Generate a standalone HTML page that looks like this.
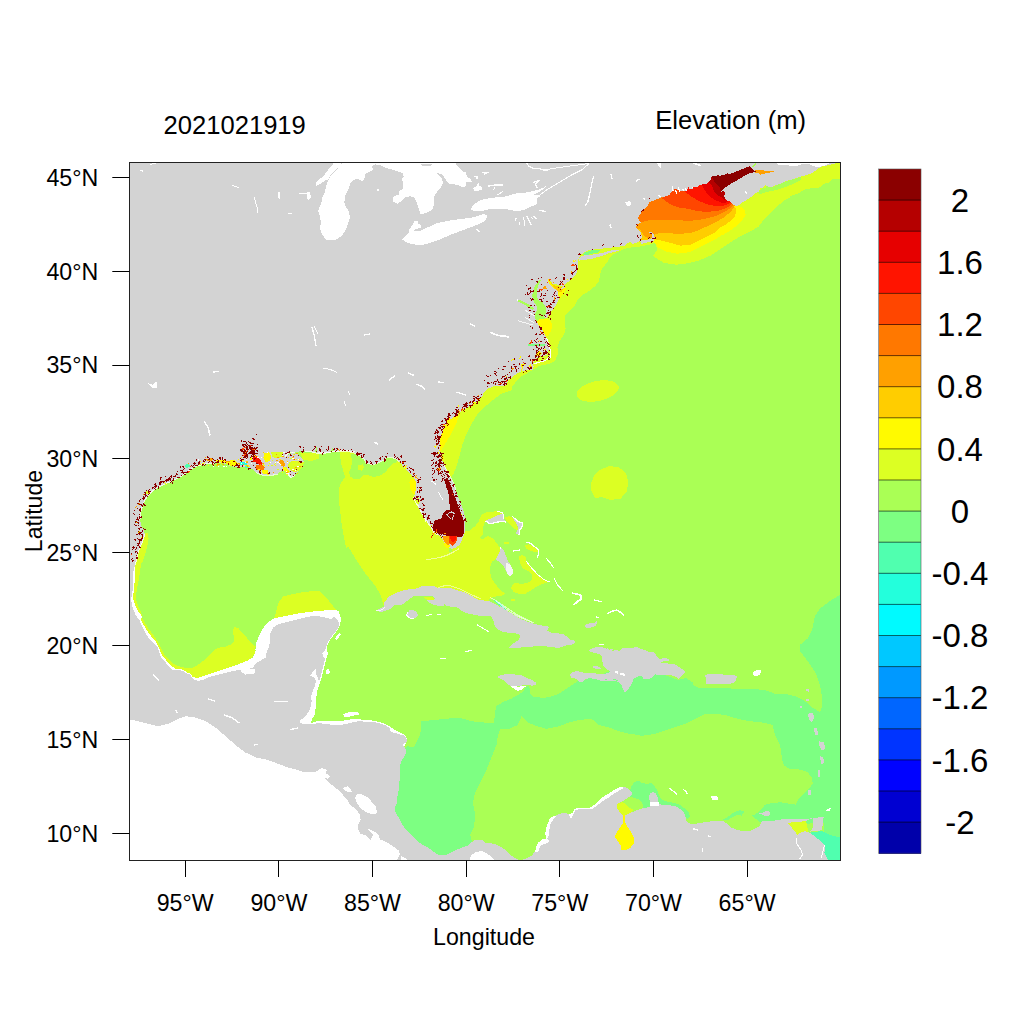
<!DOCTYPE html>
<html lang="en"><head><meta charset="utf-8"><title>Elevation (m) 2021021919</title>
<style>
html,body{margin:0;padding:0;background:#fff;}
body{width:1024px;height:1024px;overflow:hidden;}
svg{display:block;}
text{font-family:"Liberation Sans",Arial,Helvetica,sans-serif;fill:#000;}
.t22{font-size:23.2px;}
.t30{font-size:33px;}
</style></head><body>
<svg width="1024" height="1024" viewBox="0 0 1024 1024">
<rect x="0" y="0" width="1024" height="1024" fill="#fff"/>
<defs><clipPath id="pc"><rect x="129.5" y="162.5" width="711" height="698"/></clipPath></defs>
<g clip-path="url(#pc)" shape-rendering="crispEdges">
<rect x="128" y="161" width="714" height="701" fill="#AAFF55"/>
<polygon points="842.0,594.0 840.0,594.8 830.0,601.0 820.0,608.5 815.0,616.0 812.5,628.5 807.5,638.5 800.0,644.8 800.0,651.0 807.5,661.0 815.0,672.0 817.5,677.5 821.2,690.0 822.5,705.0 820.0,712.5 812.5,707.5 805.0,701.2 795.0,696.2 785.0,693.8 775.0,693.8 765.0,690.0 750.0,688.8 735.0,688.8 725.0,688.1 717.5,687.5 710.0,687.5 703.8,688.1 697.5,687.5 692.5,685.0 693.1,682.5 690.0,680.6 686.2,678.1 682.5,678.8 678.8,680.0 650.0,670.0 612.5,670.0 600.0,675.0 608.5,676.2 596.0,676.2 583.5,676.2 588.5,678.8 583.5,680.0 578.5,680.6 573.5,683.8 568.5,687.5 563.5,690.6 558.5,693.8 552.2,696.2 546.0,697.5 539.8,697.5 533.5,696.9 530.4,694.4 529.8,690.0 529.1,685.6 525.4,687.5 522.9,691.9 517.2,695.6 511.0,698.8 503.5,701.9 496.0,706.2 495.2,712.5 494.0,722.5 484.0,722.5 471.5,721.2 459.0,717.5 446.5,718.8 434.0,720.0 421.5,721.2 420.2,735.0 414.0,747.5 407.8,746.2 399.0,752.5 389.0,790.0 399.0,840.0 434.0,860.0 471.5,847.5 471.5,840.0 470.2,835.0 474.0,827.5 475.2,815.0 472.8,802.5 475.2,792.5 480.2,782.5 486.5,770.0 491.5,757.5 496.5,745.0 497.8,736.2 500.2,728.8 509.0,728.8 517.8,725.0 521.5,716.2 527.8,722.5 536.5,726.2 546.5,728.8 559.0,726.2 569.0,722.5 579.0,720.0 591.5,718.8 599.0,725.0 609.0,727.5 619.0,731.2 629.0,733.8 640.0,735.0 640.0,736.2 655.0,733.8 670.0,728.8 685.0,723.8 695.0,718.8 705.0,713.8 715.0,713.8 725.0,715.0 737.5,718.8 750.0,721.2 762.5,722.5 772.5,725.0 775.0,735.0 780.0,745.0 782.2,759.4 783.8,765.6 790.0,768.8 799.4,769.5 807.2,771.9 811.9,777.3 812.7,783.6 808.8,789.1 804.1,793.8 799.4,797.7 797.0,801.6 796.2,804.7 790.0,803.9 780.6,802.3 771.2,803.1 765.0,804.7 761.9,808.6 758.8,811.7 755.6,814.1 751.7,815.6 761.9,823.4 786.9,825.0 811.9,823.4 824.4,823.4 824.0,838.0 846.0,838.0" fill="#7DFF82"/>
<polygon points="631.2,786.9 633.8,782.5 638.1,780.6 642.5,783.1 647.5,783.8 651.9,783.1 655.0,786.9 657.5,791.2 659.4,796.2 662.5,800.0 668.8,801.9 675.0,803.1 680.0,805.0 685.0,808.8 688.8,812.5 690.0,816.2 687.5,818.8 682.5,816.2 657.5,810.0 650.0,810.0 643.8,808.8 642.5,803.8 640.0,800.0 635.0,798.1 630.0,796.9 632.5,793.8 630.0,790.0" fill="#7DFF82"/>
<polygon points="617.5,803.8 622.5,801.9 626.2,804.4 630.0,808.1 633.8,810.0 631.2,812.5 626.2,815.0 622.5,815.6 619.4,811.9 617.2,808.1" fill="#DCFF23"/>
<polygon points="722.8,819.5 727.5,817.2 733.8,812.5 740.0,810.2 744.7,811.7 741.6,815.6 736.9,814.8 732.2,817.2 727.5,820.3" fill="#7DFF82"/>
<polygon points="786.1,822.7 793.1,821.1 799.4,821.1 805.6,820.3 807.2,825.0 808.0,832.0 804.8,832.0 800.2,833.6 797.5,835.9 794.4,830.9 791.2,826.9" fill="#DCFF23"/>
<polygon points="811.1,832.0 822.8,831.2 830.6,835.2 840.0,837.5 841.6,837.5 841.6,862.5 824.4,862.5 823.6,853.1 822.0,846.9 819.7,842.2 815.0,838.3 811.9,835.2" fill="#50FFAF"/>
<polygon points="451.0,478.1 454.1,472.5 457.2,463.8 459.8,455.0 462.2,445.0 466.0,435.0 471.0,425.0 476.0,416.2 481.0,410.0 483.8,407.5 490.0,402.5 496.2,397.5 501.2,393.8 507.5,391.9 511.9,390.0 512.5,386.2 515.0,383.1 520.0,376.9 527.5,373.1 532.5,370.0 540.0,365.6 548.8,364.0 555.0,361.2 557.5,355.0 557.5,347.5 559.4,341.2 563.8,335.0 565.6,328.8 565.0,321.2 565.0,315.0 570.0,310.0 575.0,305.0 577.5,300.0 582.5,295.0 588.8,291.2 595.0,286.2 598.8,281.2 600.0,275.0 601.2,270.0 605.0,265.0 608.8,260.0 608.8,258.8 612.5,255.0 618.8,251.5 625.0,248.8 631.2,247.5 637.5,246.9 645.0,245.6 650.0,244.4 655.0,243.1 656.9,247.5 657.5,250.0 655.0,253.1 652.5,255.6 656.6,258.4 664.4,263.1 676.9,264.7 689.4,263.1 700.3,260.0 711.2,255.3 720.6,249.1 730.0,242.8 739.4,236.6 748.8,231.9 758.1,227.2 762.8,220.9 770.6,213.1 778.4,205.3 786.2,199.1 790.0,197.5 790.0,196.2 797.5,193.8 805.0,189.4 812.5,188.1 818.8,188.1 823.8,183.8 828.8,182.5 832.5,178.8 838.8,178.8 843.8,178.8 843.8,160.0 500.0,150.0 430.0,350.0 435.0,445.0 445.0,478.0" fill="#DCFF23"/>
<polygon points="531.2,277.5 548.8,277.5 548.8,315.0 545.0,318.5 540.0,322.5 531.2,322.5 515.0,320.0 515.0,297.5" fill="#AAFF55"/>
<polygon points="757.5,192.8 761.2,188.8 763.1,187.5 765.0,188.5 766.9,185.6 770.0,187.2 773.8,186.5 778.8,184.0 783.8,182.1 790.0,180.2 796.2,178.4 801.2,176.9 801.2,180.0 795.0,183.1 788.8,185.6 782.5,188.1 776.2,190.0 770.0,191.2 763.8,192.8 760.0,194.4" fill="#AAFF55"/>
<polygon points="438.5,451.9 437.9,445.0 438.5,437.5 440.4,431.2 443.5,425.0 448.5,418.8 454.8,414.4 459.1,415.6 457.2,421.2 453.5,428.8 449.8,436.2 446.0,442.5 442.2,448.8 440.0,451.9" fill="#FFFA00"/>
<polygon points="618.5,386.5 618.5,388.8 617.3,391.2 615.2,393.6 612.2,395.9 608.5,397.9 604.2,399.5 599.6,400.8 594.8,401.5 590.2,401.8 586.0,401.4 582.4,400.6 579.5,399.3 577.5,397.5 576.5,395.5 576.5,393.2 577.7,390.8 579.8,388.4 582.8,386.1 586.5,384.1 590.8,382.5 595.4,381.2 600.2,380.5 604.8,380.2 609.0,380.6 612.6,381.4 615.5,382.7 617.5,384.5" fill="#DCFF23"/>
<polygon points="591.5,491.0 591.0,483.5 594.0,476.0 600.2,469.8 609.0,466.0 619.0,467.2 626.0,473.5 628.5,482.2 626.5,492.2 620.2,499.0 610.2,499.8 601.5,497.2 595.2,498.0" fill="#DCFF23"/>
<polygon points="582.5,255.2 585.0,252.5 590.0,250.6 595.0,249.8 600.0,250.0 597.5,252.5 591.2,254.0 586.2,255.0" fill="#7DFF82"/>
<polygon points="566.5,286.9 563.8,288.1 560.0,287.5 555.0,286.2 551.2,283.8 548.8,278.8 546.9,278.8 547.5,282.5 550.6,286.2 554.4,290.0 557.5,293.8 558.1,297.5 560.6,297.5 563.8,293.8 565.6,290.0" fill="#FFFA00"/>
<polygon points="551.0,283.2 555.0,285.4 560.0,286.8 564.0,287.5 561.9,291.5 558.1,291.5 554.4,288.4" fill="#FFCD00"/>
<polygon points="536.2,322.5 540.0,318.8 545.0,318.8 550.0,320.0 552.2,325.0 551.2,331.2 547.5,336.2 543.8,335.0 541.2,330.0 538.8,326.2" fill="#FFFA00"/>
<polygon points="340.0,450.0 340.0,456.2 341.2,463.8 343.8,472.5 345.0,477.5 341.2,482.5 339.4,487.5 338.8,495.0 339.4,505.0 340.6,515.0 341.9,526.2 343.8,536.2 346.2,548.0 348.0,546.0 355.5,558.5 365.5,573.5 375.5,586.0 376.0,587.5 378.5,591.2 381.0,596.2 382.2,601.2 383.8,605.6 388.5,602.5 413.5,595.0 438.5,593.8 463.5,598.8 488.5,607.5 504.0,613.8 488.8,600.0 492.5,596.9 498.8,596.2 503.8,595.0 505.0,593.1 501.9,591.2 498.1,587.5 494.4,582.5 491.2,577.5 490.0,571.2 490.6,565.0 492.5,561.2 495.6,559.4 499.4,552.5 501.2,548.1 499.4,546.9 496.2,542.5 492.5,538.1 488.8,536.2 485.6,536.9 482.5,539.4 480.0,538.1 483.1,533.8 482.5,530.0 483.8,525.0 485.6,520.6 495.0,518.8 503.8,515.6 501.2,512.5 496.9,510.6 492.5,511.9 486.2,512.5 481.2,515.0 478.8,521.2 475.0,526.2 470.0,530.0 470.0,531.2 465.0,531.2 456.2,527.5 425.0,490.0 400.0,458.0 360.0,448.0 340.0,445.0" fill="#DCFF23"/>
<polygon points="351.2,453.8 362.5,455.6 367.5,461.2 375.0,462.5 385.0,457.5 390.0,455.6 396.2,457.5 397.5,461.9 392.5,463.8 388.8,467.5 385.0,472.5 380.0,475.6 373.8,476.9 367.5,475.0 362.5,475.6 360.0,478.8 355.0,479.4 350.6,476.9 349.0,472.5 351.2,467.5 351.9,462.5" fill="#AAFF55"/>
<polygon points="358.1,465.6 362.5,464.4 364.0,467.5 361.9,470.6 358.1,470.0" fill="#DCFF23"/>
<polygon points="409.4,482.5 411.2,478.8 414.4,478.8 416.2,482.5 416.2,488.8 414.4,494.4 411.9,492.5 410.0,487.5" fill="#FFFA00"/>
<polygon points="504.4,516.9 510.0,516.2 513.8,518.8 516.9,523.8 518.1,530.0 513.8,528.8 510.0,525.0 506.9,521.2" fill="#DCFF23"/>
<polygon points="519.4,556.2 522.5,555.0 525.6,556.9 526.2,561.2 530.0,565.0 535.0,571.2 540.0,576.2 545.0,580.0 550.0,581.9 545.0,583.1 540.0,585.0 535.0,587.5 530.0,591.2 525.0,593.8 518.8,593.8 513.8,591.9 511.2,588.8 511.9,585.0 515.0,583.1 521.2,583.8 527.5,583.1 531.2,580.6 532.5,576.9 531.2,573.1 527.5,570.6 522.5,568.1 520.6,563.8 519.4,560.0" fill="#DCFF23"/>
<polygon points="525.0,545.6 528.8,544.4 533.8,546.9 538.1,550.0 538.5,552.5 535.0,551.9 530.0,550.6 526.2,548.8" fill="#DCFF23"/>
<polygon points="503.8,541.9 508.8,541.9 508.8,544.4 504.4,544.4" fill="#DCFF23"/>
<polygon points="511.2,599.4 515.0,599.4 515.2,601.2 511.5,601.2" fill="#DCFF23"/>
<polygon points="493.8,600.0 498.8,601.9 503.8,606.2 506.2,610.0 504.4,609.8 500.6,606.2 496.2,603.1" fill="#50FFAF"/>
<polygon points="423.5,596.9 431.0,596.5 434.5,598.1 433.5,599.8 428.5,599.8 425.4,599.0" fill="#DCFF23"/>
<polygon points="275.5,613.5 278.0,603.5 283.0,596.5 293.0,594.0 303.0,592.2 313.0,591.0 319.2,591.0 328.0,599.8 336.8,610.5 338.5,611.6 323.5,611.6 298.5,614.1 282.2,617.2 274.1,618.5" fill="#DCFF23"/>
<polygon points="140.5,532.5 144.9,532.5 148.0,532.5 148.6,538.8 147.4,546.2 144.9,555.0 142.4,562.5 141.1,563.5 139.9,573.5 138.0,583.5 136.5,592.2 136.1,599.8 138.0,606.0 141.1,612.2 142.4,616.6 142.4,618.5 145.5,623.5 149.2,629.8 153.6,635.4 158.0,642.2 161.1,648.5 164.2,654.8 169.2,659.8 173.6,664.1 178.0,666.0 183.0,667.2 188.0,668.5 191.8,667.9 198.0,664.8 203.0,661.0 208.0,656.0 213.0,651.0 218.0,647.9 225.5,646.6 231.8,644.1 234.2,641.0 233.6,636.0 233.0,631.0 234.2,627.2 238.0,627.9 243.0,633.5 248.0,639.1 253.0,644.8 256.0,646.6 255.4,646.6 254.8,653.5 251.0,658.5 244.8,662.2 236.0,664.8 253.0,668.5 203.0,682.2 190.5,678.5 171.8,671.0 159.2,656.0 140.5,623.5 130.5,599.8 133.0,556.0" fill="#DCFF23"/>
<polygon points="653.4,241.2 658.1,247.5 665.9,251.4 676.9,253.8 689.4,252.2 698.8,247.5 708.1,242.8 717.5,238.1 720.0,236.2 725.0,233.8 731.2,230.0 737.5,225.0 742.5,220.0 745.6,215.0 745.0,210.0 741.2,206.9 736.2,205.6 739.4,191.2 755.0,169.4 755.8,162.3 708.1,167.8 661.2,183.4 622.2,206.9 622.2,242.0 645.6,241.6" fill="#FFFA00"/>
<polygon points="653.4,238.9 661.2,240.5 670.6,242.8 680.0,245.6 689.4,245.2 697.2,241.2 705.0,237.3 714.4,232.7 720.0,227.5 725.0,225.0 730.0,221.2 734.4,217.5 736.2,212.5 735.6,208.1 733.1,205.6 739.4,191.2 755.0,169.4 755.8,162.3 708.1,167.8 661.2,183.4 622.2,206.9 622.2,242.0 645.6,241.6" fill="#FFCD00"/>
<polygon points="639.4,228.8 642.5,233.4 645.6,237.3 651.1,238.1 653.4,235.0 661.2,232.7 670.6,233.4 680.0,233.8 689.4,233.1 695.2,231.6 700.6,229.2 706.9,226.4 713.1,223.3 719.4,220.2 724.8,216.7 729.5,212.8 732.7,209.2 734.7,206.1 739.4,191.2 755.0,169.4 755.8,162.3 708.1,167.8 661.2,183.4 622.2,206.9 622.2,228.8" fill="#FFA000"/>
<polygon points="636.2,225.6 640.9,222.5 648.8,220.2 658.1,219.7 667.5,219.7 676.9,220.3 686.2,220.6 692.5,220.5 699.1,219.8 706.9,218.3 715.2,216.2 721.2,213.4 726.9,210.6 730.9,207.5 733.8,205.0 739.4,191.2 755.0,169.4 755.8,162.3 708.1,167.8 661.2,183.4 622.2,206.9 622.2,228.8" fill="#FF7800"/>
<polygon points="662.0,198.3 665.9,201.4 672.2,205.3 680.0,207.7 687.8,208.8 695.2,210.5 703.0,211.6 710.8,211.6 718.6,210.5 724.8,208.8 728.8,206.6 731.6,204.4 739.4,191.2 755.0,169.4 755.8,162.3 708.1,167.8 676.9,175.6" fill="#FF4600"/>
<polygon points="684.7,191.2 689.4,195.2 695.6,199.1 701.9,202.2 708.1,204.5 715.9,206.2 719.7,206.2 724.1,205.6 728.4,204.1 731.2,202.5 739.4,191.2 755.0,169.4 755.8,162.3 708.1,167.8 676.9,175.6" fill="#FF1400"/>
<polygon points="702.0,185.2 704.4,189.4 706.7,193.1 710.0,196.4 713.8,199.2 717.5,201.1 721.2,202.5 725.0,203.0 727.7,201.9 739.4,191.2 755.0,169.4 755.8,162.3 708.1,167.8 676.9,175.6" fill="#E60000"/>
<polygon points="710.0,182.8 712.3,186.6 713.8,190.3 715.6,193.6 718.9,195.9 722.2,197.8 724.1,199.7 726.1,199.1 739.4,191.2 755.0,169.4 755.8,162.3 708.1,167.8 676.9,175.6" fill="#B50000"/>
<polygon points="711.9,176.6 713.4,180.3 715.3,182.8 717.5,184.7 719.4,187.2 720.6,190.3 721.2,191.9 723.8,191.2 739.4,191.2 755.0,169.4 755.8,162.3 708.1,167.8 676.9,175.6" fill="#8B0000"/>
<polygon points="188.0,671.0 193.0,677.2 198.0,677.9 203.0,676.0 210.5,673.5 218.0,671.0 225.5,668.5 233.0,666.0 240.5,663.5 248.0,660.4 253.0,657.2 254.9,653.5 256.0,648.5 255.4,649.8 256.0,643.5 258.5,637.2 261.6,631.0 264.8,625.4 269.8,621.0 274.8,618.2 282.2,616.6 291.0,614.8 299.8,613.2 308.5,612.0 317.2,611.0 326.0,610.4 334.8,610.0 338.5,611.0 340.4,616.0 340.8,621.0 339.8,626.0 337.2,630.4 334.8,633.5 323.5,639.8 286.0,633.5 273.5,661.0 248.5,677.2 223.5,683.5 203.0,686.0 190.5,682.2 189.9,676.0" fill="#FFFFFF"/>
<polygon points="336.0,631.6 331.6,637.9 329.1,641.6 327.2,646.0 326.6,649.8 327.9,652.9 327.2,656.0 326.0,659.8 324.8,664.8 323.5,669.8 322.2,674.8 321.0,679.8 319.8,683.5 317.9,688.5 316.6,694.8 316.0,701.0 315.8,706.0 314.8,711.0 312.9,716.0 311.6,721.0 311.0,724.0 316.2,696.2 316.2,702.5 315.0,714.4 311.9,718.8 311.2,723.1 317.5,721.2 325.0,720.6 332.5,720.6 340.0,721.0 347.5,720.0 353.8,718.8 360.0,719.4 366.2,720.0 372.5,720.6 378.8,721.9 385.0,723.8 391.2,727.5 396.2,730.6 401.2,733.1 405.6,735.6 407.5,740.0 403.8,747.5 387.5,742.5 300.0,742.5 286.0,708.5 306.0,671.0 323.5,643.5" fill="#FFFFFF"/>
<polygon points="136.8,543.5 136.8,556.0 135.5,563.5 134.9,573.5 134.5,583.5 133.6,592.2 132.8,598.5 135.5,606.0 138.6,612.2 141.8,616.0 141.1,619.8 144.2,626.0 147.4,631.0 151.1,636.0 156.1,642.2 159.2,648.5 161.8,654.8 166.8,661.0 171.1,666.0 175.5,668.5 181.8,669.1 186.8,672.2 190.5,674.1 188.0,681.0 165.5,674.8 146.8,649.8 128.0,618.5 128.0,543.5" fill="#FFFFFF"/>
<polygon points="128.0,161.0 842.0,161.0 840.0,162.2 836.2,163.1 831.2,164.4 826.2,165.6 822.5,166.2 820.0,167.5 816.2,170.0 813.8,171.9 808.8,174.4 802.5,176.2 796.2,178.1 790.0,180.0 783.8,181.9 780.0,184.1 776.6,185.0 774.1,185.9 771.6,187.5 769.1,186.9 766.9,186.2 766.0,185.0 764.1,186.9 762.2,188.8 761.0,187.5 759.8,189.4 758.5,191.6 756.0,193.1 753.5,195.0 751.0,196.9 748.5,198.8 746.0,200.3 743.5,201.9 741.0,203.4 739.1,205.0 736.6,206.2 734.8,205.6 732.6,204.4 731.0,202.5 729.4,200.6 727.6,201.6 725.4,199.4 724.4,196.2 724.8,193.1 724.1,190.6 721.3,191.6 722.9,189.4 726.0,186.9 729.8,184.4 733.5,182.2 737.2,180.3 743.1,176.5 749.4,173.5 754.4,172.2 750.0,170.0 751.9,168.1 749.4,166.0 748.5,166.5 744.8,168.1 741.0,169.6 737.2,171.2 733.5,172.8 729.8,174.0 727.2,173.4 724.8,174.6 721.6,175.2 719.8,176.2 718.5,175.2 716.0,175.6 713.5,175.9 711.9,176.2 711.0,178.4 710.4,180.2 708.5,182.1 706.0,184.0 703.5,184.0 701.0,184.9 698.5,185.9 696.0,187.8 694.1,186.2 692.2,189.0 689.8,189.0 688.5,187.1 687.2,189.0 686.0,191.5 681.6,191.2 675.3,188.9 672.2,190.5 669.1,195.2 661.2,197.5 653.4,200.6 649.4,202.5 647.5,205.6 645.0,208.8 642.5,211.2 640.0,214.4 638.1,217.5 638.8,220.0 641.2,222.5 637.5,224.4 635.6,227.5 638.8,230.0 641.2,233.1 641.9,236.2 641.2,240.0 646.2,239.8 650.0,239.0 652.2,238.1 652.5,235.6 651.2,233.5 649.0,232.8 649.4,231.9 651.9,232.2 653.8,234.4 654.6,237.5 654.4,240.2 653.1,241.2 650.0,241.9 645.0,243.1 641.2,243.8 640.0,241.2 636.2,243.1 632.5,243.8 630.0,241.9 627.5,243.1 625.0,245.6 617.5,246.9 610.0,247.8 602.5,248.5 595.0,249.4 588.8,250.2 583.8,252.5 580.0,255.6 578.8,257.8 577.5,261.9 578.5,265.0 577.5,270.0 575.6,275.0 571.9,278.8 567.5,282.5 563.8,286.2 560.0,290.0 566.2,286.9 565.0,286.6 561.9,286.2 557.5,284.6 552.5,283.5 550.0,280.8 548.8,278.5 547.8,281.2 550.2,285.0 552.9,287.5 556.2,289.9 558.5,291.8 558.1,295.2 559.0,297.5 558.1,301.2 556.2,305.0 552.5,310.0 548.8,315.0 546.2,318.8 543.8,316.9 545.6,313.8 546.5,310.0 545.2,306.2 542.8,302.5 538.4,300.0 536.8,296.2 536.5,291.2 537.8,286.9 539.6,282.5 540.9,280.0 540.0,279.4 537.9,282.2 534.8,286.2 532.9,291.2 532.2,296.2 533.5,301.2 536.6,306.2 537.2,310.0 534.8,313.8 535.4,318.8 537.2,322.5 539.4,326.2 542.5,330.0 544.4,333.8 546.2,337.5 548.1,342.5 550.0,347.5 551.2,352.5 550.6,356.2 547.5,359.4 542.5,361.2 537.5,362.5 532.5,363.8 533.8,366.2 532.5,370.0 527.5,370.0 521.2,371.2 515.0,375.0 508.8,380.0 505.0,386.2 500.0,385.6 493.8,386.2 487.5,388.8 483.8,392.5 482.5,396.2 478.8,400.0 473.8,403.8 467.5,407.5 461.2,411.2 456.2,415.0 451.2,418.8 446.2,423.8 443.1,430.0 440.6,436.2 439.8,442.5 440.0,450.0 441.2,457.5 441.0,457.5 443.5,463.8 446.6,470.0 450.4,477.5 453.5,483.8 456.0,490.0 458.5,497.5 461.6,505.0 464.1,512.5 465.4,520.0 465.4,527.5 464.1,535.0 464.8,528.8 463.8,535.0 461.9,540.0 459.4,545.0 456.2,547.5 452.5,548.8 447.5,548.1 445.0,545.6 443.8,541.2 441.2,536.9 437.5,534.4 433.8,531.9 435.0,533.8 432.5,530.0 430.0,525.0 427.5,522.5 423.8,517.5 420.0,511.2 417.5,506.2 420.0,501.2 418.8,497.5 415.0,500.0 414.4,495.0 416.2,488.8 416.2,482.5 413.8,477.5 410.0,473.8 406.2,470.0 402.5,465.6 398.8,461.2 395.0,458.1 390.0,456.9 386.2,457.5 383.8,460.0 380.0,461.9 375.0,463.8 370.0,463.8 366.2,462.5 363.8,458.8 360.0,455.6 353.8,452.8 347.5,451.0 341.2,451.0 335.0,451.2 332.5,448.1 330.0,451.9 323.8,452.8 318.1,452.5 317.5,453.1 316.2,445.0 315.0,453.1 310.0,451.2 302.5,451.2 295.0,451.9 288.8,452.5 285.0,456.2 287.5,455.0 292.5,453.1 297.5,453.8 301.2,457.5 303.8,461.2 302.5,466.2 298.8,470.0 295.0,475.0 291.2,477.5 286.2,472.5 282.5,470.0 277.5,473.8 270.0,475.6 262.5,475.0 256.2,472.5 252.5,468.8 245.0,467.5 237.5,466.9 230.0,466.2 228.0,464.4 221.8,463.1 215.5,462.8 209.2,463.1 203.0,464.4 198.0,465.6 193.0,468.1 188.0,471.2 183.0,475.0 178.0,478.1 171.8,481.2 165.5,483.8 159.2,486.9 153.0,490.6 148.6,495.0 144.9,500.0 142.4,506.2 140.5,512.5 139.9,518.8 141.1,525.0 143.6,530.0 144.9,533.8 143.0,540.0 140.5,546.2 138.0,552.5 136.1,560.0 134.2,568.0 132.8,573.5 133.2,583.5 132.4,592.2 131.1,599.8 132.4,607.2 135.5,614.8 139.9,621.0 141.8,626.0 144.9,632.2 148.0,637.2 153.0,642.2 157.4,647.2 159.2,652.2 161.1,657.2 165.5,662.2 169.2,667.2 172.4,669.8 178.0,669.8 183.0,671.0 186.8,673.5 190.5,674.8 193.0,679.1 198.0,681.0 203.0,679.8 210.5,676.6 218.0,674.8 225.5,672.9 233.0,671.0 240.5,669.8 248.0,668.5 253.0,667.9 254.8,664.1 261.0,660.4 266.0,657.2 266.6,652.2 269.1,647.2 269.8,641.0 270.4,633.5 272.9,627.9 277.2,624.8 283.5,622.9 291.0,621.0 298.5,619.1 306.0,617.2 313.5,616.0 321.0,616.6 327.2,617.9 331.0,619.1 334.1,616.6 337.2,619.1 339.1,623.5 338.5,627.2 336.0,631.0 332.9,634.8 329.8,639.1 327.2,643.5 326.0,648.5 324.1,651.6 322.2,653.5 323.5,656.6 325.4,658.5 324.1,662.2 322.9,667.2 321.6,672.2 320.4,677.2 319.1,681.0 317.9,678.5 316.0,673.5 315.4,668.5 312.9,671.6 309.8,676.0 314.1,677.2 316.0,681.0 314.8,686.0 312.9,691.0 311.0,696.0 311.6,701.0 311.0,706.0 309.1,711.0 306.0,715.4 302.2,719.1 300.0,720.0 300.0,723.1 305.0,724.4 311.2,724.4 317.5,723.1 325.0,723.8 332.5,724.8 340.0,725.0 347.5,723.8 353.8,721.9 360.0,721.2 366.2,721.9 372.5,721.9 378.8,723.1 385.0,725.0 390.0,728.1 390.0,731.2 395.0,733.1 400.0,734.4 404.4,735.6 406.9,739.4 406.2,743.8 403.8,742.5 403.1,745.6 405.6,748.8 406.2,752.5 404.4,756.2 401.9,760.0 400.0,765.0 400.0,771.2 400.0,777.5 400.0,775.0 399.4,782.5 398.8,790.0 397.5,796.2 397.2,802.5 394.4,808.1 396.2,813.8 399.4,818.8 402.5,825.0 406.2,830.0 411.2,835.0 416.2,840.0 421.2,843.8 425.0,846.2 430.0,848.8 433.8,851.9 437.5,854.4 442.5,855.2 447.5,854.4 452.5,851.9 457.5,849.4 462.5,847.5 467.5,845.6 471.2,842.5 475.0,840.0 478.8,840.0 483.8,840.6 485.0,842.5 490.0,843.1 496.2,844.4 501.2,846.9 506.2,850.6 510.0,854.4 513.8,857.5 518.1,859.8 522.5,859.8 527.5,858.1 532.5,855.0 535.0,851.2 536.9,846.2 538.8,842.5 542.5,840.0 546.2,838.8 545.6,833.8 546.2,828.8 548.1,823.8 550.0,818.8 553.8,816.2 558.8,814.4 563.8,812.5 567.5,813.8 571.2,815.6 573.8,812.5 575.0,808.8 578.8,808.1 578.8,808.1 583.8,808.8 590.0,808.1 595.0,805.0 600.0,800.0 605.0,796.2 611.2,792.5 616.2,789.4 621.2,786.9 626.2,787.5 630.0,790.0 632.5,793.8 630.0,796.2 626.2,798.8 622.5,801.2 617.5,803.8 616.9,807.5 619.4,811.9 622.5,815.0 626.2,815.0 631.2,812.5 637.5,810.0 643.8,808.1 650.0,806.9 650.0,802.5 648.8,797.5 650.0,793.8 653.1,791.9 656.2,793.8 658.1,798.8 658.8,803.8 662.5,805.0 668.8,805.0 675.0,806.2 680.0,808.8 683.8,812.5 685.6,817.5 686.2,821.2 690.0,823.8 695.0,824.4 697.8,823.1 705.6,822.2 713.4,821.1 722.8,820.6 726.7,823.4 730.6,827.3 736.9,829.7 743.1,831.2 749.4,831.2 754.1,828.9 758.8,826.6 761.1,823.4 761.9,821.1 768.1,821.1 774.4,820.6 780.6,819.5 786.9,818.8 793.1,818.8 799.4,819.1 805.6,818.8 811.9,818.4 805.6,821.1 799.4,821.9 793.1,821.9 787.7,823.4 791.2,826.9 794.4,830.9 797.5,835.2 800.2,832.8 804.8,831.2 808.8,832.5 813.4,835.2 818.1,839.1 822.8,843.0 825.2,847.7 824.4,853.1 827.5,859.4 827.8,862.5 827.0,862.0 128.0,862.0" fill="#D3D3D3"/>
<polygon points="578.8,260.6 585.0,259.8 592.5,258.5 600.0,256.5 607.5,253.8 613.8,251.9 618.8,251.0 618.8,250.5 613.8,250.0 610.0,250.6 603.8,252.5 597.5,253.8 591.2,254.8 585.0,255.2 581.2,256.2 578.8,258.1" fill="#D3D3D3"/>
<polygon points="376.0,610.6 379.8,608.8 383.5,606.9 384.1,603.1 386.6,599.4 390.4,595.6 396.0,593.1 402.2,590.6 408.5,589.4 416.0,588.5 422.2,586.2 428.5,586.0 434.8,586.5 438.5,588.1 443.5,587.5 448.5,587.5 453.5,588.8 458.5,590.6 463.5,591.9 468.5,594.4 473.5,596.9 478.5,600.0 484.8,600.6 489.8,601.2 494.8,603.8 499.8,606.9 501.0,606.2 506.0,610.0 511.0,613.1 517.2,616.9 523.5,620.0 529.8,622.5 536.0,624.4 542.2,625.6 546.6,625.6 548.5,627.5 547.2,630.6 551.0,632.5 557.2,633.1 563.5,634.4 567.2,636.9 570.4,640.0 574.8,640.6 575.4,642.5 572.2,644.4 566.0,645.6 559.8,647.5 554.8,647.5 549.8,646.9 543.5,646.0 536.0,646.2 528.5,646.9 521.0,647.5 514.8,648.1 509.1,648.1 511.0,645.0 514.8,642.5 518.5,640.0 520.4,636.9 518.5,633.8 513.5,633.1 507.2,632.5 502.2,631.9 498.5,629.4 501.0,631.2 497.2,628.8 494.8,626.2 494.1,622.5 492.2,618.1 489.8,615.6 486.0,615.6 481.0,616.2 474.8,614.8 468.5,613.8 463.5,611.9 459.8,609.4 456.6,607.2 451.0,606.6 446.0,606.2 444.8,603.8 443.5,605.6 439.8,606.2 434.8,605.0 429.8,603.1 426.6,600.6 429.8,600.2 434.1,600.0 434.8,598.1 432.2,596.2 426.0,595.6 418.5,595.6 414.1,595.6 409.8,598.8 406.0,601.9 402.9,604.4 398.5,605.0 393.5,605.6 391.0,608.8 387.2,610.0 382.2,611.9 376.0,611.2" fill="#D3D3D3"/>
<polygon points="407.9,613.1 409.1,610.6 412.2,609.8 416.0,611.2 417.9,614.4 417.2,617.2 413.5,618.5 409.8,617.5 407.2,615.6" fill="#D3D3D3"/>
<polygon points="497.2,676.9 501.0,675.0 507.2,673.8 514.8,674.4 522.2,675.6 527.2,678.1 532.2,680.0 536.0,682.5 536.6,684.4 532.2,685.6 527.2,685.0 523.5,685.2 518.5,686.5 514.8,685.6 511.0,686.2 507.2,683.8 503.5,680.0 499.8,678.5" fill="#D3D3D3"/>
<polygon points="589.1,650.6 592.2,648.1 597.2,646.9 603.5,647.5 609.8,649.4 616.0,651.2 621.0,651.2 600.0,646.9 605.0,648.1 610.0,650.0 615.0,651.2 620.0,650.6 622.5,648.1 627.5,647.5 632.5,648.1 636.2,646.9 641.2,648.8 646.2,650.6 650.0,652.5 653.8,651.9 656.2,655.0 658.1,658.1 660.0,658.8 665.0,658.1 668.8,658.8 668.8,660.6 663.8,661.0 660.6,662.5 666.2,663.1 671.2,664.4 675.0,664.4 678.8,666.9 682.5,669.4 685.0,671.9 683.1,675.0 680.0,676.9 678.8,679.8 676.2,676.9 672.5,675.6 667.5,675.0 661.2,675.0 655.0,674.4 652.5,676.9 650.0,678.8 646.2,679.4 643.1,678.8 641.9,675.6 638.8,676.2 635.6,677.5 633.1,679.4 631.9,683.8 629.4,687.5 626.9,690.6 624.4,692.5 622.5,688.1 621.9,685.0 618.8,682.5 615.0,680.0 610.0,678.8 605.0,679.4 600.0,680.6 619.8,681.2 614.8,678.8 608.5,679.4 602.2,680.0 596.0,679.4 589.8,678.1 584.8,679.4 582.2,682.5 579.8,681.9 576.0,678.8 571.0,677.5 569.8,674.4 572.2,671.9 577.2,671.2 583.5,672.5 589.8,673.1 596.0,673.5 603.5,673.8 608.5,673.1 609.8,671.2 607.2,669.4 603.5,666.2 602.2,661.2 602.2,656.2 598.5,653.8 593.5,652.5 589.1,651.2" fill="#D3D3D3"/>
<polygon points="592.2,665.6 596.0,665.6 600.4,667.5 600.8,669.4 596.0,668.8 592.9,667.2" fill="#D3D3D3"/>
<polygon points="584.8,625.6 587.2,623.8 591.0,623.1 594.8,622.8 597.0,620.6 597.2,623.1 595.4,626.2 591.0,627.5 586.6,628.1" fill="#D3D3D3"/>
<polygon points="705.0,675.6 708.8,673.8 715.0,674.0 721.2,674.4 728.0,674.8 734.4,675.0 736.9,676.2 736.2,680.0 733.8,683.1 728.0,684.0 718.8,683.8 712.5,683.8 706.2,684.4 706.2,678.8" fill="#D3D3D3"/>
<polygon points="495.6,559.4 497.5,556.2 499.4,552.5 500.0,549.4 500.6,547.5 503.8,550.0 505.6,555.0 507.5,560.0 510.0,563.8 512.5,568.8 513.1,573.8 510.6,576.2 507.5,574.4 505.6,570.0 503.1,565.0 499.4,561.9" fill="#D3D3D3"/>
<polygon points="485.6,520.6 490.0,518.8 493.8,516.9 498.8,515.0 503.1,513.1 504.0,518.8 506.2,521.9 501.2,521.2 495.0,522.2 490.0,524.4 487.5,523.1" fill="#D3D3D3"/>
<polygon points="512.5,516.9 516.2,520.6 519.4,522.5 522.5,523.1 521.9,526.9 519.4,530.0 518.8,535.0 515.6,533.1 518.1,529.4 517.2,524.4 513.8,520.0" fill="#D3D3D3"/>
<polygon points="812.7,818.4 818.1,817.5 823.6,817.2 822.8,823.4 822.0,829.7 818.1,831.2 813.4,831.2 810.3,831.6 812.7,828.1 813.4,823.4" fill="#D3D3D3"/>
<polygon points="758.8,813.3 763.4,812.5 766.6,810.9 769.7,811.7 770.0,814.8 767.3,816.4 763.4,815.3" fill="#D3D3D3"/>
<polygon points="808.2,713.8 812.5,712.5 814.5,717.5 812.0,722.0 808.8,720.0" fill="#D3D3D3"/>
<polygon points="813.8,727.5 817.0,728.0 818.0,734.5 815.0,735.5" fill="#D3D3D3"/>
<polygon points="819.0,741.2 823.8,742.5 825.5,748.8 822.0,750.5 819.5,746.2" fill="#D3D3D3"/>
<polygon points="820.0,756.2 823.2,757.0 824.0,763.0 821.0,764.0" fill="#D3D3D3"/>
<polygon points="817.5,770.0 820.0,770.5 820.5,777.0 818.0,777.5" fill="#D3D3D3"/>
<polygon points="807.5,790.0 810.8,790.5 811.5,794.5 808.2,795.0" fill="#D3D3D3"/>
<polygon points="805.5,688.8 808.5,689.0 808.5,691.5 805.5,691.2" fill="#D3D3D3"/>
<polygon points="805.5,698.8 809.0,699.0 809.0,701.5 805.5,701.2" fill="#D3D3D3"/>
<polygon points="799.5,705.5 801.5,705.5 801.5,707.5 799.5,707.5" fill="#D3D3D3"/>
<polygon points="128.0,719.5 130.5,719.5 138.0,721.2 148.0,723.8 158.0,726.2 168.0,723.8 178.0,718.8 185.5,716.2 195.5,717.5 205.5,721.2 215.5,727.5 225.5,736.2 235.5,745.0 245.5,752.5 255.5,757.5 268.0,760.0 278.0,763.8 288.0,767.5 298.0,770.0 300.0,771.2 305.0,771.9 311.2,772.5 317.5,771.2 320.0,768.8 322.5,768.1 326.9,770.0 325.6,773.1 330.0,776.2 327.5,778.8 323.8,777.5 328.8,782.5 335.0,787.5 340.0,791.2 343.8,796.2 347.5,800.0 350.0,805.0 353.8,807.5 357.5,811.2 360.0,815.0 360.6,820.0 358.1,825.0 357.5,828.8 360.6,833.8 366.2,835.6 370.6,840.0 373.1,835.0 370.0,831.9 367.5,828.1 373.8,831.2 378.8,835.0 380.0,839.4 387.5,842.5 393.8,846.9 398.8,850.6 400.0,854.4 397.5,859.4 397.2,861.2 128.0,862.0" fill="#FFFFFF"/>
<polygon points="400.6,861.2 401.2,856.2 406.2,858.8 407.8,861.2" fill="#FFFFFF"/>
<polygon points="469.4,861.2 471.2,855.0 476.2,851.9 482.5,851.0 487.5,853.8 492.5,857.5 495.6,861.2" fill="#FFFFFF"/>
<polygon points="355.0,797.5 356.9,794.4 360.6,793.8 365.0,796.9 370.0,801.2 375.0,806.2 376.9,810.6 375.6,813.5 371.2,813.8 365.6,811.9 360.6,808.1 356.9,803.1" fill="#FFFFFF"/>
<polygon points="342.5,788.1 347.5,786.2 350.6,788.8 351.9,791.9 348.1,792.2 345.0,790.6" fill="#FFFFFF"/>
<polygon points="315.6,186.0 316.0,183.1 319.4,178.8 323.1,176.9 325.6,173.1 328.8,168.8 332.5,165.2 335.0,160.0 342.8,160.0 340.0,166.2 336.9,169.0 333.1,172.5 330.0,176.0 328.1,180.0 325.0,180.6 321.9,182.5 318.8,185.0" fill="#FFFFFF"/>
<polygon points="343.5,160.0 339.4,167.5 335.0,171.2 330.6,176.2 328.1,181.2 326.0,185.6 325.2,191.2 322.2,197.5 321.5,202.5 318.2,210.6 320.0,216.2 320.8,222.5 320.0,228.8 322.5,235.0 325.6,239.4 330.0,240.6 336.2,239.4 341.9,235.6 345.6,230.0 348.1,223.8 349.8,217.5 349.0,211.2 346.2,207.5 344.4,202.5 345.0,196.2 347.5,191.2 349.4,186.9 350.0,183.1 353.1,180.6 356.9,178.8 360.0,180.0 362.5,181.2 364.4,178.8 365.0,174.4 368.8,171.9 373.8,170.0 371.2,166.9 374.4,163.8 374.4,160.0" fill="#FFFFFF"/>
<polygon points="374.4,160.0 374.4,163.1 371.2,166.9 375.0,164.4 380.0,165.0 385.0,167.5 391.2,169.4 397.5,171.2 402.5,173.1 403.8,176.2 401.9,178.8 403.1,182.5 403.1,188.8 399.4,191.2 398.8,194.4 393.1,196.9 392.5,201.2 397.5,203.8 401.2,201.2 405.0,197.5 410.0,196.2 414.4,197.5 416.9,202.5 418.8,208.8 420.6,214.4 426.2,213.1 432.5,209.4 434.4,203.8 434.4,196.2 437.5,191.2 441.2,186.9 443.1,183.1 441.9,178.8 438.8,175.0 436.2,173.1 441.9,173.8 445.0,178.8 446.9,181.2 448.8,183.8 452.5,183.8 457.5,185.0 463.8,187.5 466.2,185.0 465.6,181.2 469.4,182.5 472.5,181.9 470.0,178.8 466.9,176.2 465.6,172.5 462.5,171.2 459.4,168.1 456.2,165.0 454.4,160.0" fill="#FFFFFF"/>
<polygon points="408.8,230.0 412.5,225.0 414.4,221.2 417.5,221.2 418.1,223.8 421.2,225.0 420.6,228.1 416.2,228.8 412.5,232.5 409.4,233.1" fill="#FFFFFF"/>
<polygon points="376.9,189.0 379.4,189.4 379.0,190.9 377.2,190.6" fill="#FFFFFF"/>
<polygon points="402.5,239.5 406.2,235.0 410.0,231.2 420.0,231.2 427.5,227.5 437.5,223.0 450.0,220.5 462.5,218.8 475.0,217.0 483.8,213.8 487.0,215.5 486.2,220.0 480.0,223.8 470.0,227.5 460.0,231.2 450.0,235.0 440.0,239.5 430.0,243.0 420.0,245.5 411.2,243.8 405.0,242.0" fill="#FFFFFF"/>
<polygon points="470.6,209.4 472.5,206.2 475.6,203.1 480.0,200.6 485.0,199.0 490.0,198.1 495.0,197.5 501.2,196.9 507.5,196.2 512.5,194.4 518.8,192.8 523.8,192.8 528.8,192.2 532.5,191.2 537.5,190.0 542.5,188.1 546.2,186.0 543.8,189.0 537.5,192.8 533.8,194.4 537.5,195.0 540.0,196.2 536.9,198.8 537.5,201.9 536.2,204.4 532.5,206.0 527.5,208.1 523.8,210.0 520.0,210.6 513.8,210.6 507.5,209.4 501.2,208.5 495.0,208.5 488.8,209.4 483.8,210.6 478.8,211.5 473.8,211.0" fill="#FFFFFF"/>
<polygon points="473.1,188.1 476.2,186.2 478.1,182.5 479.4,185.6 481.9,186.9 481.9,189.4 478.8,190.6 475.6,191.2 475.0,192.5 473.8,190.0" fill="#FFFFFF"/>
<polygon points="776.9,160.0 776.9,164.0 780.0,165.0 785.0,164.5 790.0,165.8 795.0,166.0 800.0,165.0 802.5,163.8 807.5,163.8 812.5,165.5 816.2,166.8 821.2,166.5 825.0,165.5 828.8,163.8 830.0,160.0" fill="#FFFFFF"/>
<polygon points="306.8,192.5 310.0,192.0 311.0,197.5 308.5,200.0 306.5,197.0" fill="#FFFFFF"/>
<polygon points="278.0,192.5 280.5,192.0 280.0,198.8 278.0,198.0" fill="#FFFFFF"/>
<polygon points="148.0,383.2 153.0,385.0 155.0,382.0 157.0,382.0 157.0,387.5 151.8,387.5" fill="#FFFFFF"/>
<polygon points="355.5,797.5 360.5,793.8 368.0,797.5 375.5,806.2 376.8,812.5 371.8,813.0 364.2,809.5 358.0,803.8" fill="#FFFFFF"/>
<polygon points="535.0,851.9 536.5,846.2 538.5,842.2 542.5,839.5 546.5,838.2 549.0,840.0 548.1,843.1 543.8,844.0 540.0,846.2 538.1,851.9" fill="#FFFFFF"/>
<polygon points="545.2,833.8 545.9,828.8 547.8,823.5 549.8,818.5 553.8,815.9 556.5,816.5 552.8,820.0 550.2,825.0 549.0,831.2 548.4,837.5 546.2,839.0" fill="#FFFFFF"/>
<polygon points="568.1,813.8 574.0,813.1 571.2,818.8" fill="#FFFFFF"/>
<polygon points="568.8,820.0 571.9,813.5 574.8,809.0 578.8,807.5 583.8,808.2 590.0,807.5 594.8,804.5 599.8,799.5 604.8,795.8 611.0,792.0 616.0,788.9 621.2,786.4 624.0,787.8 619.0,790.6 612.8,794.4 607.8,798.1 601.5,801.9 596.5,806.2 591.5,809.2 583.8,809.5 578.8,809.2 575.6,810.0 573.1,814.4" fill="#FFFFFF"/>
<polygon points="650.0,801.9 658.8,801.9 659.0,805.6 650.0,806.0" fill="#FFFFFF"/>
<polygon points="420.0,163.5 433.8,163.5 430.0,166.2 422.5,165.6" fill="#D3D3D3"/>
<polygon points="753.8,170.6 758.8,170.2 765.0,170.6 772.5,170.6 776.2,171.0 770.0,172.5 763.8,173.8 760.0,174.8 757.5,172.5 755.0,172.5" fill="#FFA000"/>
<polygon points="748.1,168.8 751.2,167.2 753.8,170.0 756.2,171.9 752.5,172.5 749.4,171.9" fill="#8B0000"/>
<polygon points="751.9,166.2 755.6,163.1 756.5,164.0 753.1,167.2" fill="#AAFF55"/>
<polygon points="432.5,530.0 433.1,525.0 435.0,520.0 441.2,518.8 443.1,513.8 446.2,510.6 450.0,509.4 449.4,502.5 448.8,496.2 448.1,490.0 447.2,490.0 445.4,483.8 444.8,480.0 446.6,477.5 449.1,481.2 451.6,487.5 454.1,495.0 457.2,502.5 456.9,502.5 459.4,508.8 461.9,515.0 463.8,521.2 464.4,527.5 463.8,533.8 461.2,537.5 457.5,536.9 455.0,535.6 450.0,535.6 446.2,535.6 442.5,534.4 437.5,533.1" fill="#8B0000"/>
<polygon points="446.2,514.4 451.2,511.2 455.0,513.1 452.5,520.0 449.4,518.1" fill="#D3D3D3"/>
<polygon points="447.2,515.0 451.0,512.5 453.8,513.8 451.9,519.0 449.8,517.5" fill="#8B0000"/>
<polygon points="448.8,536.0 456.9,536.0 456.9,540.0 455.0,543.8 452.5,545.6 450.0,543.8 448.1,540.0" fill="#FF4600"/>
<polygon points="450.0,536.0 456.2,536.0 456.0,539.4 453.1,542.5 450.6,540.0" fill="#FF1400"/>
<polygon points="441.9,535.6 449.0,536.0 448.5,540.6 450.0,544.0 447.5,545.0 444.4,541.9" fill="#FFA000"/>
<polygon points="444.4,542.5 447.5,545.0 449.8,544.5 449.4,547.8 446.2,547.8 444.4,545.6" fill="#FFFA00"/>
<polygon points="449.4,548.1 452.5,548.8 451.2,552.5 449.0,551.9" fill="#AAFF55"/>
<polygon points="622.5,815.0 625.0,815.6 625.0,822.5 628.1,827.5 631.2,832.5 634.0,837.5 633.8,843.8 630.0,848.1 625.0,850.2 621.2,849.8 620.6,845.0 617.5,841.2 614.8,836.2 616.9,831.9 620.0,827.5 622.5,823.8 623.4,819.4" fill="#FFFA00"/>
<polygon points="252.5,455.6 256.9,456.2 260.6,460.0 262.8,464.4 259.4,465.0 255.6,462.5 253.1,459.4" fill="#FF1400"/>
<polygon points="255.6,465.0 261.2,464.4 265.0,466.9 263.8,470.0 259.4,470.6 256.2,468.8" fill="#FF7800"/>
<polygon points="230.0,460.2 235.0,460.0 237.8,463.1 236.2,466.0 230.0,466.0" fill="#FFFA00"/>
<polygon points="263.8,453.1 268.8,452.2 271.2,456.2 270.0,461.2 265.6,461.9 263.5,457.5" fill="#FFFA00"/>
<polygon points="261.9,470.0 267.5,469.8 268.1,473.5 262.8,474.0" fill="#FFFA00"/>
<polygon points="240.0,462.5 246.2,462.2 246.5,465.0 240.2,465.2" fill="#23FFDC"/>
<polygon points="245.0,466.0 248.8,466.0 248.8,468.1 245.0,468.1" fill="#50FFAF"/>
<polygon points="271.2,452.2 282.5,451.9 283.1,456.9 277.5,458.1 271.9,457.2" fill="#DCFF23"/>
<polygon points="288.8,461.9 297.5,460.6 303.8,461.9 303.1,466.9 299.4,470.6 295.0,472.5 290.6,470.0 288.1,466.2" fill="#DCFF23"/>
<polygon points="300.0,453.1 318.8,453.1 318.5,458.8 311.2,461.0 303.1,459.8" fill="#DCFF23"/>
<polygon points="279.4,460.6 283.1,460.2 285.2,463.8 284.4,466.9 281.2,466.2 279.4,463.1" fill="#FFA000"/>
<polygon points="282.5,466.2 286.2,467.5 290.0,471.2 288.8,473.1 285.0,471.2 282.5,468.8" fill="#FFFA00"/>
<polygon points="185.2,464.8 189.2,463.8 189.8,466.5 186.8,468.2 185.2,466.9" fill="#50FFAF"/>
<polygon points="206.1,459.4 212.4,457.5 213.2,460.2 208.0,461.5" fill="#FFA000"/>
<polygon points="216.1,459.8 223.0,460.0 228.0,461.5 234.2,463.5 235.5,464.8 230.5,464.8 223.0,462.8 216.1,461.5" fill="#FFFA00"/>
<polygon points="239.9,463.0 246.1,462.5 247.4,464.5 241.1,465.0" fill="#23FFDC"/>
<polygon points="252.4,455.6 256.0,455.0 256.0,462.5 253.0,461.9" fill="#FF1400"/>
<polygon points="144.2,491.9 148.0,491.2 148.6,493.8 144.9,495.0" fill="#DCFF23"/>
<polygon points="533.1,362.8 535.0,358.8 540.0,356.5 546.2,355.2 549.0,349.4 550.2,353.1 549.5,356.5 546.2,359.4 541.2,361.0 535.6,363.2" fill="#DCFF23"/>
<polygon points="535.6,353.1 539.8,351.0 541.9,353.5 538.8,356.2 535.6,356.0" fill="#FFFA00"/>
<polygon points="528.1,344.4 535.0,343.9 544.8,344.4 544.8,346.0 535.0,346.2 528.1,346.5" fill="#7DFF82"/>
<polygon points="533.8,308.1 527.5,303.8 522.5,301.2 518.1,299.4 516.9,301.2 521.2,303.1 526.2,305.6 532.5,310.0" fill="#AAFF55"/>
<polyline points="525.6,542.5 530.0,543.1 535.0,546.9 538.8,550.0 538.1,555.0 537.5,558.1" fill="none" stroke="#FFFFFF" stroke-width="1.2"/>
<polyline points="546.2,558.1 550.0,562.5 553.8,568.1" fill="none" stroke="#FFFFFF" stroke-width="1.2"/>
<polyline points="526.2,561.2 531.2,567.5 537.5,574.4 543.8,579.4 549.4,581.9" fill="none" stroke="#FFFFFF" stroke-width="1"/>
<polyline points="553.8,577.5 557.5,585.0 562.5,590.6" fill="none" stroke="#FFFFFF" stroke-width="1.2"/>
<polyline points="572.5,593.1 580.0,595.0 580.6,598.8 573.8,604.4" fill="none" stroke="#FFFFFF" stroke-width="1.3"/>
<polyline points="512.5,551.2 520.0,550.0" fill="none" stroke="#FFFFFF" stroke-width="1.2"/>
<polyline points="485.6,521.0 490.0,523.8 495.0,522.5 501.2,521.5 506.2,522.0" fill="none" stroke="#FFFFFF" stroke-width="1.2"/>
<polyline points="496.9,511.0 502.8,513.0 504.0,518.8" fill="none" stroke="#FFFFFF" stroke-width="1"/>
<polyline points="512.5,516.5 516.5,520.2 519.8,522.2 522.8,523.0 522.0,527.0 519.8,530.0 519.0,535.2" fill="none" stroke="#FFFFFF" stroke-width="1.2"/>
<polygon points="506.2,563.1 510.0,564.0 512.5,568.8 513.1,573.8 510.6,576.2 507.5,574.4 506.2,570.0" fill="#FFFFFF" fill-opacity="0.75"/>
<polyline points="500.0,547.2 501.2,549.0" fill="none" stroke="#FFFFFF" stroke-width="1"/>
<polyline points="572.2,593.1 577.2,593.8 581.6,595.6 581.0,599.4 577.2,602.5 573.5,605.0" fill="none" stroke="#FFFFFF" stroke-width="1.3"/>
<polyline points="594.1,600.0 602.2,601.9" fill="none" stroke="#FFFFFF" stroke-width="1.3"/>
<polyline points="607.2,613.8 612.2,611.2 616.6,610.0 621.0,612.5 624.0,615.0" fill="none" stroke="#FFFFFF" stroke-width="1.5"/>
<polyline points="596.0,616.9 598.5,618.1" fill="none" stroke="#FFFFFF" stroke-width="1.3"/>
<polyline points="598.5,644.8 603.5,645.0" fill="none" stroke="#FFFFFF" stroke-width="1"/>
<polyline points="438.5,587.5 443.5,586.0 449.8,585.6 456.0,587.5 462.2,590.0 468.5,593.1 474.8,596.2 481.0,599.0" fill="none" stroke="#FFFFFF" stroke-width="1" stroke-opacity="0.5"/>
<polyline points="490.0,597.5 495.0,600.0 502.5,605.0 510.0,610.0 517.5,615.0 525.0,618.8 532.5,622.2" fill="none" stroke="#FFFFFF" stroke-width="1" stroke-opacity="0.6"/>
<polyline points="496.0,601.2 501.0,605.0 506.0,608.8 511.0,612.5 517.2,616.0 524.8,619.5 533.5,622.8" fill="none" stroke="#FFFFFF" stroke-width="1" stroke-opacity="0.6"/>
<polyline points="426.0,615.2 432.2,614.8" fill="none" stroke="#FFFFFF" stroke-width="1"/>
<polyline points="437.2,615.0 441.0,614.0" fill="none" stroke="#FFFFFF" stroke-width="1"/>
<polyline points="476.6,624.4 489.1,631.9" fill="none" stroke="#FFFFFF" stroke-width="1"/>
<polyline points="464.8,651.5 471.6,650.6" fill="none" stroke="#FFFFFF" stroke-width="1"/>
<polyline points="439.8,658.5 446.0,658.5" fill="none" stroke="#FFFFFF" stroke-width="1.3"/>
<polyline points="407.9,611.9 406.6,615.0 409.1,617.8 413.5,619.0" fill="none" stroke="#FFFFFF" stroke-width="1"/>
<polyline points="376.0,611.0 381.0,610.2 384.8,607.5" fill="none" stroke="#FFFFFF" stroke-width="1" stroke-opacity="0.8"/>
<polyline points="426.2,560.0 432.5,558.8 440.0,557.5 447.5,555.0 453.8,551.9 458.8,548.8" fill="none" stroke="#FFFFFF" stroke-width="1" stroke-opacity="0.55"/>
<polyline points="425.0,518.1 428.1,523.1 431.2,527.5 433.8,532.2 437.5,534.8" fill="none" stroke="#FFFFFF" stroke-width="1" stroke-opacity="0.8"/>
<polyline points="413.5,497.5 416.0,503.1 419.1,506.9 421.0,511.5 424.1,516.5 426.0,521.5" fill="none" stroke="#FFFFFF" stroke-width="1" stroke-opacity="0.8"/>
<polyline points="444.1,465.0 447.2,471.2 451.0,478.1 454.1,484.4 456.0,490.0" fill="none" stroke="#FFFFFF" stroke-width="1" stroke-opacity="0.7"/>
<polyline points="438.5,491.9 440.4,496.2 442.9,499.4" fill="none" stroke="#FFFFFF" stroke-width="1"/>
<polyline points="431.6,481.2 436.0,484.4" fill="none" stroke="#FFFFFF" stroke-width="1"/>
<polygon points="511.0,686.5 514.8,685.9 518.5,686.9 523.5,685.5 525.5,686.5 521.0,690.0 517.9,691.0 514.8,689.4" fill="#FFFFFF"/>
<polygon points="752.5,672.0 757.5,669.5 761.2,670.5 760.0,674.5 755.5,676.5 752.5,675.0" fill="#FFFFFF"/>
<polygon points="339.8,632.9 341.0,634.1 338.5,637.9 336.0,640.8 335.4,638.5 337.2,634.8" fill="#FFFFFF"/>
<polygon points="326.0,669.8 329.1,669.1 329.8,672.2 327.9,674.8 326.2,673.5" fill="#FFFFFF"/>
<polygon points="342.9,714.1 348.5,712.2 354.8,711.6 359.8,712.9 356.0,714.8 348.5,716.0 344.8,717.0" fill="#FFFFFF"/>
<polygon points="343.1,714.4 347.5,712.5 355.0,712.5 359.4,714.4 353.8,715.6 348.8,716.9 344.4,717.5" fill="#FFFFFF"/>
<polyline points="668.8,788.1 672.5,790.6 676.9,794.4" fill="none" stroke="#FFFFFF" stroke-width="1.3"/>
<polyline points="683.1,789.4 685.6,791.2 687.5,794.4" fill="none" stroke="#FFFFFF" stroke-width="1.3"/>
<polygon points="711.1,796.1 717.3,795.6 718.1,799.7 711.9,800.0" fill="#FFFFFF"/>
<polygon points="825.2,810.9 828.3,808.6 831.4,808.1 829.8,810.6" fill="#FFFFFF"/>
<polyline points="796.2,838.3 797.0,843.8 800.9,850.0 802.5,854.7 799.4,859.4" fill="none" stroke="#FFFFFF" stroke-width="1"/>
<polyline points="824.4,845.3 822.8,851.6 821.2,857.8" fill="none" stroke="#FFFFFF" stroke-width="1"/>
<polyline points="693.1,828.9 697.8,830.0" fill="none" stroke="#FFFFFF" stroke-width="1.5"/>
<polyline points="708.0,835.6 710.3,836.9" fill="none" stroke="#FFFFFF" stroke-width="1.2"/>
<polyline points="702.5,848.4 702.8,852.3" fill="none" stroke="#FFFFFF" stroke-width="1.2"/>
<polygon points="241.8,668.0 255.5,668.8 254.2,673.8 245.5,674.5 241.0,672.0" fill="#FFFFFF"/>
<polyline points="224.2,715.0 231.8,717.5 239.2,723.0" fill="none" stroke="#FFFFFF" stroke-width="1.5"/>
<polyline points="208.0,698.8 215.5,701.2" fill="none" stroke="#FFFFFF" stroke-width="1.3"/>
<polyline points="290.5,729.5 298.0,728.0" fill="none" stroke="#FFFFFF" stroke-width="1.5"/>
<polyline points="153.0,675.0 159.2,680.5" fill="none" stroke="#FFFFFF" stroke-width="1.5"/>
<polyline points="175.5,710.0 177.5,713.0" fill="none" stroke="#FFFFFF" stroke-width="1.3"/>
<polyline points="254.2,745.0 258.0,744.5" fill="none" stroke="#FFFFFF" stroke-width="1.2"/>
<polyline points="274.2,701.2 288.0,702.0" fill="none" stroke="#FFFFFF" stroke-width="1"/>
<polygon points="318.8,770.0 322.5,768.1 326.9,770.0 325.6,773.1 330.0,776.2 327.5,778.8 323.8,777.5 321.2,773.8" fill="#FFFFFF"/>
<polyline points="536.5,197.5 546.5,190.0 559.0,182.5 571.5,175.0 581.5,170.0 589.0,163.8" fill="none" stroke="#FFFFFF" stroke-width="1"/>
<polyline points="526.9,163.1 528.8,166.2 532.5,168.1 540.0,168.8 545.0,170.6 548.0,170.0" fill="none" stroke="#FFFFFF" stroke-width="1.2"/>
<polyline points="544.0,170.0 559.0,167.5 574.0,165.5 589.0,163.5" fill="none" stroke="#FFFFFF" stroke-width="1"/>
<polyline points="593.5,176.2 591.5,185.0 589.5,195.0 588.0,201.2 585.2,206.2" fill="none" stroke="#FFFFFF" stroke-width="1.3"/>
<polyline points="516.2,217.5 515.6,220.6" fill="none" stroke="#FFFFFF" stroke-width="1"/>
<polyline points="520.0,221.9 518.8,225.6" fill="none" stroke="#FFFFFF" stroke-width="1"/>
<polyline points="523.8,216.9 524.4,226.2" fill="none" stroke="#FFFFFF" stroke-width="1"/>
<polyline points="526.9,216.2 531.2,225.0" fill="none" stroke="#FFFFFF" stroke-width="1"/>
<polyline points="531.2,216.9 533.1,219.4" fill="none" stroke="#FFFFFF" stroke-width="1"/>
<polyline points="533.8,216.2 536.2,218.8" fill="none" stroke="#FFFFFF" stroke-width="1"/>
<polyline points="538.8,210.2 545.6,211.5" fill="none" stroke="#FFFFFF" stroke-width="1.5"/>
<polyline points="488.1,185.9 495.0,185.2 502.5,185.2" fill="none" stroke="#FFFFFF" stroke-width="1.5"/>
<polyline points="495.0,186.9 493.8,189.8" fill="none" stroke="#FFFFFF" stroke-width="1"/>
<polyline points="482.5,172.1 487.5,172.5 483.8,174.4" fill="none" stroke="#FFFFFF" stroke-width="1.3"/>
<polyline points="473.8,176.5 477.5,177.0 476.9,178.8" fill="none" stroke="#FFFFFF" stroke-width="1.3"/>
<polyline points="533.1,182.8 539.4,180.0 535.6,184.4 537.5,188.1" fill="none" stroke="#FFFFFF" stroke-width="1.3"/>
<polyline points="497.5,195.0 503.1,191.2" fill="none" stroke="#FFFFFF" stroke-width="1"/>
<polyline points="476.2,229.4 480.0,231.9" fill="none" stroke="#FFFFFF" stroke-width="1.5"/>
<polygon points="625.2,202.0 630.2,201.2 631.5,205.0 627.0,206.5" fill="#FFFFFF"/>
<polyline points="611.0,173.8 612.0,178.8" fill="none" stroke="#FFFFFF" stroke-width="1.3"/>
<polyline points="609.8,224.5 611.0,228.0" fill="none" stroke="#FFFFFF" stroke-width="1.5"/>
<polyline points="470.2,323.8 475.2,326.2" fill="none" stroke="#FFFFFF" stroke-width="1.3"/>
<polyline points="490.2,332.5 497.8,335.5 509.0,337.0" fill="none" stroke="#FFFFFF" stroke-width="1.5"/>
<polyline points="389.0,380.0 395.2,375.5" fill="none" stroke="#FFFFFF" stroke-width="1.5"/>
<polyline points="407.8,373.0 414.0,375.5" fill="none" stroke="#FFFFFF" stroke-width="1.5"/>
<polyline points="416.5,384.2 421.5,386.2 425.2,389.5" fill="none" stroke="#FFFFFF" stroke-width="1.5"/>
<polyline points="437.8,382.0 444.0,382.5" fill="none" stroke="#FFFFFF" stroke-width="1.3"/>
<polyline points="456.5,392.0 466.5,395.5" fill="none" stroke="#FFFFFF" stroke-width="1.3"/>
<polyline points="311.8,327.0 314.2,335.0 316.0,346.2" fill="none" stroke="#FFFFFF" stroke-width="1.3"/>
<polyline points="314.2,326.2 318.0,333.8" fill="none" stroke="#FFFFFF" stroke-width="1"/>
<polyline points="323.0,368.0 330.5,369.5 336.8,372.5" fill="none" stroke="#FFFFFF" stroke-width="1"/>
<polyline points="213.0,372.0 219.2,371.5" fill="none" stroke="#FFFFFF" stroke-width="1.3"/>
<polyline points="231.8,185.0 239.2,188.0" fill="none" stroke="#FFFFFF" stroke-width="1"/>
<polyline points="254.2,197.5 256.8,206.2 258.0,212.5" fill="none" stroke="#FFFFFF" stroke-width="1"/>
<polyline points="364.2,335.0 370.0,334.0" fill="none" stroke="#FFFFFF" stroke-width="1.3"/>
<polyline points="348.0,391.2 350.0,395.0" fill="none" stroke="#FFFFFF" stroke-width="1"/>
<polyline points="344.2,401.2 345.5,406.2" fill="none" stroke="#FFFFFF" stroke-width="1"/>
<polyline points="288.0,213.0 291.8,213.5" fill="none" stroke="#FFFFFF" stroke-width="1"/>
<polyline points="299.2,193.8 306.8,193.0" fill="none" stroke="#FFFFFF" stroke-width="1"/>
<polyline points="150.5,164.5 155.5,163.0" fill="none" stroke="#FFFFFF" stroke-width="1"/>
<polyline points="140.5,170.0 143.0,171.2" fill="none" stroke="#FFFFFF" stroke-width="1"/>
<polyline points="204.2,421.5 208.0,427.2 210.0,435.5" fill="none" stroke="#FFFFFF" stroke-width="1.5"/>
<polyline points="374.2,442.2 378.0,444.0" fill="none" stroke="#FFFFFF" stroke-width="1.8"/>
<polyline points="546.5,337.8 548.8,345.0 551.0,352.5 550.2,357.2 545.2,360.6 540.0,361.9 534.0,363.8" fill="none" stroke="#FFFFFF" stroke-width="1"/>
<polyline points="535.0,316.2 525.0,310.0" fill="none" stroke="#FFFFFF" stroke-width="1" stroke-opacity="0.8"/>
<polyline points="533.8,322.5 525.0,317.5" fill="none" stroke="#FFFFFF" stroke-width="1" stroke-opacity="0.8"/>
<polyline points="532.5,325.0 517.5,320.6" fill="none" stroke="#FFFFFF" stroke-width="1" stroke-opacity="0.8"/>
<polyline points="518.1,299.4 516.9,301.5" fill="none" stroke="#FFFFFF" stroke-width="1"/>
<polyline points="490.0,332.2 497.5,335.0 508.8,336.5" fill="none" stroke="#FFFFFF" stroke-width="1.2"/>
<polyline points="139.9,520.0 140.5,512.5 142.4,506.2 144.9,500.0 148.6,495.0 153.0,490.6 159.2,486.9 165.5,483.8 171.8,481.2 178.0,478.1 183.0,475.0 188.0,471.2 193.0,468.1 198.0,465.6 203.0,464.4 209.2,463.4 215.5,463.0" fill="none" stroke="#FFFFFF" stroke-width="1" stroke-opacity="0.8"/>
<polyline points="135.5,565.0 136.8,557.5 138.6,551.2 141.1,545.0 143.6,538.8 144.9,534.4" fill="none" stroke="#FFFFFF" stroke-width="1" stroke-opacity="0.8"/>
<polyline points="305.0,451.5 310.0,451.5 317.5,453.4 323.8,453.4 330.0,452.1 335.0,451.5 340.0,450.9 345.0,450.2 350.0,450.9 355.0,452.1" fill="none" stroke="#FFFFFF" stroke-width="1" stroke-opacity="0.8"/>
<polyline points="285.0,456.5 288.8,452.8 295.0,452.1" fill="none" stroke="#FFFFFF" stroke-width="1" stroke-opacity="0.8"/>
<polyline points="286.2,472.8 291.2,477.8 295.0,475.2" fill="none" stroke="#FFFFFF" stroke-width="1" stroke-opacity="0.8"/>
<polyline points="256.2,472.8 262.5,475.2 270.0,475.9 277.5,474.0" fill="none" stroke="#FFFFFF" stroke-width="1" stroke-opacity="0.7"/>
<polyline points="318.1,452.8 323.8,453.0 330.0,452.1 335.0,451.5 341.2,451.2 347.5,451.2 353.8,453.0 360.0,455.9 363.8,459.0 366.2,462.8 370.0,464.0 375.0,464.0 380.0,462.1 383.8,460.2 386.2,457.8 390.0,457.1 395.0,458.4 398.8,461.5" fill="none" stroke="#FFFFFF" stroke-width="1" stroke-opacity="0.7"/>
<polyline points="672.2,185.8 673.0,191.2" fill="none" stroke="#FFFFFF" stroke-width="1.3"/>
<polyline points="675.3,189.7 676.9,193.6" fill="none" stroke="#FFFFFF" stroke-width="1.3"/>
<polyline points="678.4,187.3 679.7,192.0" fill="none" stroke="#FFFFFF" stroke-width="1.3"/>
<polyline points="682.3,188.9 683.9,191.2" fill="none" stroke="#FFFFFF" stroke-width="1.3"/>
<polyline points="685.5,188.1 686.6,190.5" fill="none" stroke="#FFFFFF" stroke-width="1.3"/>
<polyline points="658.9,195.2 660.5,197.5" fill="none" stroke="#FFFFFF" stroke-width="1.3"/>
<polyline points="691.7,186.6 692.8,188.1" fill="none" stroke="#FFFFFF" stroke-width="1.3"/>
<polyline points="639.4,178.8 636.2,181.1" fill="none" stroke="#FFFFFF" stroke-width="1.3"/>
<polygon points="657.3,163.4 661.2,163.1 660.5,167.8 658.9,166.2" fill="#FFFFFF"/>
<polyline points="693.3,163.4 701.1,165.5" fill="none" stroke="#FFFFFF" stroke-width="1.5"/>
<polyline points="744.8,192.0 747.2,193.1" fill="none" stroke="#FFFFFF" stroke-width="2"/>
<polyline points="643.3,198.3 644.8,199.1" fill="none" stroke="#FFFFFF" stroke-width="1.5"/>
<polygon points="615.0,670.6 618.1,671.0 617.8,673.8 615.2,673.1" fill="#FFFFFF"/>
<polygon points="620.0,672.5 625.6,673.8 625.0,675.8 620.6,675.0" fill="#FFFFFF"/>
<path fill="#8B0000" d="M649 198h1v1h-1zM643 210h1v1h-1zM643 209h1v1h-1zM642 210h1v1h-1zM641 211h1v1h-1zM636 224h1v1h-1zM637 225h1v1h-1zM637 235h1v1h-1zM637 236h1v1h-1zM638 237h1v1h-1zM640 235h1v1h-1zM638 237h1v1h-1zM652 241h1v1h-1zM651 242h1v1h-1zM655 237h1v1h-1zM650 233h1v1h-1zM651 233h1v1h-1zM652 238h1v1h-1zM653 238h1v1h-1zM654 238h1v1h-1zM655 238h1v1h-1zM651 241h1v1h-1zM649 237h1v1h-1zM648 238h1v1h-1zM640 240h1v1h-1zM640 239h1v1h-1zM621 243h1v1h-1zM620 244h1v1h-1zM613 246h1v1h-1zM603 244h1v1h-1zM602 245h1v1h-1zM592 249h1v1h-1zM578 254h1v1h-1zM579 254h1v1h-1zM579 253h1v1h-1zM580 254h1v1h-1zM575 264h1v1h-1zM576 265h1v1h-1zM576 266h1v1h-1zM576 267h1v1h-1zM577 268h1v1h-1zM576 268h1v1h-1zM574 271h1v1h-1zM573 272h1v1h-1zM572 272h1v1h-1zM571 273h1v1h-1zM572 274h1v1h-1zM572 273h1v1h-1zM577 269h1v1h-1zM576 269h1v1h-1zM575 270h1v1h-1zM572 274h1v1h-1zM570 278h1v1h-1zM571 278h1v1h-1zM570 279h1v1h-1zM572 272h1v1h-1zM564 278h1v1h-1zM564 279h1v1h-1zM564 278h1v1h-1zM564 277h1v1h-1zM564 275h1v1h-1zM564 274h1v1h-1zM563 274h1v1h-1zM563 279h1v1h-1zM563 278h1v1h-1zM560 289h1v1h-1zM558 287h1v1h-1zM567 294h1v1h-1zM566 294h1v1h-1zM566 294h1v1h-1zM567 295h1v1h-1zM563 293h1v1h-1zM568 290h1v1h-1zM563 279h1v1h-1zM563 278h1v1h-1zM563 277h1v1h-1zM564 286h1v1h-1zM562 281h1v1h-1zM559 284h1v1h-1zM560 284h1v1h-1zM560 283h1v1h-1zM559 284h1v1h-1zM560 281h1v1h-1zM561 282h1v1h-1zM555 278h1v1h-1zM556 277h1v1h-1zM541 277h1v1h-1zM543 287h1v1h-1zM547 290h1v1h-1zM547 290h1v1h-1zM553 294h1v1h-1zM554 295h1v1h-1zM552 296h1v1h-1zM554 293h1v1h-1zM553 294h1v1h-1zM555 291h1v1h-1zM556 295h1v1h-1zM554 292h1v1h-1zM557 297h1v1h-1zM558 297h1v1h-1zM559 297h1v1h-1zM558 297h1v1h-1zM555 298h1v1h-1zM553 301h1v1h-1zM554 302h1v1h-1zM553 302h1v1h-1zM552 302h1v1h-1zM553 300h1v1h-1zM554 300h1v1h-1zM550 306h1v1h-1zM549 307h1v1h-1zM549 306h1v1h-1zM549 305h1v1h-1zM548 305h1v1h-1zM548 306h1v1h-1zM549 306h1v1h-1zM550 307h1v1h-1zM551 307h1v1h-1zM553 308h1v1h-1zM546 306h1v1h-1zM548 310h1v1h-1zM548 313h1v1h-1zM547 313h1v1h-1zM546 313h1v1h-1zM544 315h1v1h-1zM545 316h1v1h-1zM539 314h1v1h-1zM540 314h1v1h-1zM541 315h1v1h-1zM542 315h1v1h-1zM550 313h1v1h-1zM550 312h1v1h-1zM550 311h1v1h-1zM548 317h1v1h-1zM550 318h1v1h-1zM550 319h1v1h-1zM549 312h1v1h-1zM548 313h1v1h-1zM548 312h1v1h-1zM547 312h1v1h-1zM548 312h1v1h-1zM549 312h1v1h-1zM550 314h1v1h-1zM549 314h1v1h-1zM549 315h1v1h-1zM547 307h1v1h-1zM547 306h1v1h-1zM550 304h1v1h-1zM550 303h1v1h-1zM551 304h1v1h-1zM546 301h1v1h-1zM547 301h1v1h-1zM543 298h1v1h-1zM543 295h1v1h-1zM544 295h1v1h-1zM545 295h1v1h-1zM541 300h1v1h-1zM542 301h1v1h-1zM541 301h1v1h-1zM541 300h1v1h-1zM541 299h1v1h-1zM540 299h1v1h-1zM539 299h1v1h-1zM545 293h1v1h-1zM541 293h1v1h-1zM541 294h1v1h-1zM541 295h1v1h-1zM540 296h1v1h-1zM538 291h1v1h-1zM537 291h1v1h-1zM539 291h1v1h-1zM539 290h1v1h-1zM541 284h1v1h-1zM538 278h1v1h-1zM532 279h1v1h-1zM537 281h1v1h-1zM536 281h1v1h-1zM537 282h1v1h-1zM531 279h1v1h-1zM532 279h1v1h-1zM533 290h1v1h-1zM533 291h1v1h-1zM532 291h1v1h-1zM531 291h1v1h-1zM530 291h1v1h-1zM530 290h1v1h-1zM526 285h1v1h-1zM529 288h1v1h-1zM530 288h1v1h-1zM530 287h1v1h-1zM529 288h1v1h-1zM528 289h1v1h-1zM528 288h1v1h-1zM527 292h1v1h-1zM525 294h1v1h-1zM530 292h1v1h-1zM529 293h1v1h-1zM528 294h1v1h-1zM527 294h1v1h-1zM527 293h1v1h-1zM527 292h1v1h-1zM532 299h1v1h-1zM532 299h1v1h-1zM533 299h1v1h-1zM532 299h1v1h-1zM532 298h1v1h-1zM530 298h1v1h-1zM531 299h1v1h-1zM532 299h1v1h-1zM531 300h1v1h-1zM529 307h1v1h-1zM528 307h1v1h-1zM530 305h1v1h-1zM531 305h1v1h-1zM534 305h1v1h-1zM534 311h1v1h-1zM530 310h1v1h-1zM529 310h1v1h-1zM530 310h1v1h-1zM533 311h1v1h-1zM534 314h1v1h-1zM529 315h1v1h-1zM529 317h1v1h-1zM530 326h1v1h-1zM535 320h1v1h-1zM536 321h1v1h-1zM536 322h1v1h-1zM539 327h1v1h-1zM539 326h1v1h-1zM540 327h1v1h-1zM541 327h1v1h-1zM532 328h1v1h-1zM532 327h1v1h-1zM541 328h1v1h-1zM540 329h1v1h-1zM540 328h1v1h-1zM541 329h1v1h-1zM535 334h1v1h-1zM536 334h1v1h-1zM536 333h1v1h-1zM535 334h1v1h-1zM541 333h1v1h-1zM537 338h1v1h-1zM536 339h1v1h-1zM541 332h1v1h-1zM542 332h1v1h-1zM541 332h1v1h-1zM541 333h1v1h-1zM540 334h1v1h-1zM539 334h1v1h-1zM543 332h1v1h-1zM542 333h1v1h-1zM543 334h1v1h-1zM534 340h1v1h-1zM535 341h1v1h-1zM532 342h1v1h-1zM531 342h1v1h-1zM531 341h1v1h-1zM544 339h1v1h-1zM545 337h1v1h-1zM544 337h1v1h-1zM547 342h1v1h-1zM536 342h1v1h-1zM547 343h1v1h-1zM548 343h1v1h-1zM548 344h1v1h-1zM549 344h1v1h-1zM550 345h1v1h-1zM549 346h1v1h-1zM540 341h1v1h-1zM546 341h1v1h-1zM545 342h1v1h-1zM541 341h1v1h-1zM543 348h1v1h-1zM544 346h1v1h-1zM543 350h1v1h-1zM547 345h1v1h-1zM548 346h1v1h-1zM536 347h1v1h-1zM537 347h1v1h-1zM536 347h1v1h-1zM536 346h1v1h-1zM536 345h1v1h-1zM535 345h1v1h-1zM533 349h1v1h-1zM544 347h1v1h-1zM537 350h1v1h-1zM536 350h1v1h-1zM549 350h1v1h-1zM536 355h1v1h-1zM535 355h1v1h-1zM535 356h1v1h-1zM535 357h1v1h-1zM545 353h1v1h-1zM545 352h1v1h-1zM545 351h1v1h-1zM544 352h1v1h-1zM543 353h1v1h-1zM543 354h1v1h-1zM545 350h1v1h-1zM546 351h1v1h-1zM540 353h1v1h-1zM539 353h1v1h-1zM536 351h1v1h-1zM538 355h1v1h-1zM539 356h1v1h-1zM546 351h1v1h-1zM546 353h1v1h-1zM545 353h1v1h-1zM548 354h1v1h-1zM548 353h1v1h-1zM548 354h1v1h-1zM548 353h1v1h-1zM549 354h1v1h-1zM548 354h1v1h-1zM543 352h1v1h-1zM544 353h1v1h-1zM545 353h1v1h-1zM544 354h1v1h-1zM543 354h1v1h-1zM542 355h1v1h-1zM541 347h1v1h-1zM541 348h1v1h-1zM540 349h1v1h-1zM547 352h1v1h-1zM546 352h1v1h-1zM546 351h1v1h-1zM548 356h1v1h-1zM549 357h1v1h-1zM539 348h1v1h-1zM538 349h1v1h-1zM548 359h1v1h-1zM548 358h1v1h-1zM549 359h1v1h-1zM548 359h1v1h-1zM542 360h1v1h-1zM541 360h1v1h-1zM540 353h1v1h-1zM542 358h1v1h-1zM543 358h1v1h-1zM542 358h1v1h-1zM543 358h1v1h-1zM542 356h1v1h-1zM541 356h1v1h-1zM539 344h1v1h-1zM539 345h1v1h-1zM545 352h1v1h-1zM539 348h1v1h-1zM537 354h1v1h-1zM538 356h1v1h-1zM538 357h1v1h-1zM537 358h1v1h-1zM537 359h1v1h-1zM536 359h1v1h-1zM535 359h1v1h-1zM539 354h1v1h-1zM538 349h1v1h-1zM538 348h1v1h-1zM539 348h1v1h-1zM538 348h1v1h-1zM538 351h1v1h-1zM537 352h1v1h-1zM536 353h1v1h-1zM538 349h1v1h-1zM537 350h1v1h-1zM536 351h1v1h-1zM536 352h1v1h-1zM537 359h1v1h-1zM537 360h1v1h-1zM536 356h1v1h-1zM536 355h1v1h-1zM534 360h1v1h-1zM536 360h1v1h-1zM532 362h1v1h-1zM532 363h1v1h-1zM532 359h1v1h-1zM533 360h1v1h-1zM535 359h1v1h-1zM534 359h1v1h-1zM533 359h1v1h-1zM533 360h1v1h-1zM530 365h1v1h-1zM529 366h1v1h-1zM529 368h1v1h-1zM528 368h1v1h-1zM523 372h1v1h-1zM527 367h1v1h-1zM528 367h1v1h-1zM519 363h1v1h-1zM519 364h1v1h-1zM530 367h1v1h-1zM523 365h1v1h-1zM531 367h1v1h-1zM530 368h1v1h-1zM531 368h1v1h-1zM530 360h1v1h-1zM530 359h1v1h-1zM529 355h1v1h-1zM529 356h1v1h-1zM528 356h1v1h-1zM528 368h1v1h-1zM529 369h1v1h-1zM522 365h1v1h-1zM522 364h1v1h-1zM525 370h1v1h-1zM526 371h1v1h-1zM522 364h1v1h-1zM521 364h1v1h-1zM522 365h1v1h-1zM524 363h1v1h-1zM525 363h1v1h-1zM522 359h1v1h-1zM514 358h1v1h-1zM514 359h1v1h-1zM513 359h1v1h-1zM514 366h1v1h-1zM515 366h1v1h-1zM516 366h1v1h-1zM515 367h1v1h-1zM515 368h1v1h-1zM516 369h1v1h-1zM508 361h1v1h-1zM511 366h1v1h-1zM511 367h1v1h-1zM511 368h1v1h-1zM512 368h1v1h-1zM518 368h1v1h-1zM513 364h1v1h-1zM514 364h1v1h-1zM516 371h1v1h-1zM516 370h1v1h-1zM510 376h1v1h-1zM510 378h1v1h-1zM510 377h1v1h-1zM509 377h1v1h-1zM508 377h1v1h-1zM502 369h1v1h-1zM503 369h1v1h-1zM507 374h1v1h-1zM498 368h1v1h-1zM511 371h1v1h-1zM511 370h1v1h-1zM505 375h1v1h-1zM504 376h1v1h-1zM503 366h1v1h-1zM504 366h1v1h-1zM505 366h1v1h-1zM509 372h1v1h-1zM510 377h1v1h-1zM510 378h1v1h-1zM507 379h1v1h-1zM494 373h1v1h-1zM504 383h1v1h-1zM504 384h1v1h-1zM503 384h1v1h-1zM504 385h1v1h-1zM507 380h1v1h-1zM504 382h1v1h-1zM504 381h1v1h-1zM503 381h1v1h-1zM502 382h1v1h-1zM502 381h1v1h-1zM501 381h1v1h-1zM506 378h1v1h-1zM506 377h1v1h-1zM506 378h1v1h-1zM505 378h1v1h-1zM504 379h1v1h-1zM505 379h1v1h-1zM504 379h1v1h-1zM504 378h1v1h-1zM505 379h1v1h-1zM503 376h1v1h-1zM502 376h1v1h-1zM502 377h1v1h-1zM504 385h1v1h-1zM505 383h1v1h-1zM506 383h1v1h-1zM505 383h1v1h-1zM506 384h1v1h-1zM505 381h1v1h-1zM501 378h1v1h-1zM505 383h1v1h-1zM506 384h1v1h-1zM496 375h1v1h-1zM496 375h1v1h-1zM499 384h1v1h-1zM500 384h1v1h-1zM500 383h1v1h-1zM500 382h1v1h-1zM494 371h1v1h-1zM495 371h1v1h-1zM496 372h1v1h-1zM495 373h1v1h-1zM495 374h1v1h-1zM496 375h1v1h-1zM498 382h1v1h-1zM498 381h1v1h-1zM499 382h1v1h-1zM500 383h1v1h-1zM497 379h1v1h-1zM497 380h1v1h-1zM496 381h1v1h-1zM495 381h1v1h-1zM494 381h1v1h-1zM493 382h1v1h-1zM495 384h1v1h-1zM495 383h1v1h-1zM491 382h1v1h-1zM493 383h1v1h-1zM488 383h1v1h-1zM489 383h1v1h-1zM487 386h1v1h-1zM487 382h1v1h-1zM488 382h1v1h-1zM487 383h1v1h-1zM486 375h1v1h-1zM484 380h1v1h-1zM490 375h1v1h-1zM488 376h1v1h-1zM487 376h1v1h-1zM477 396h1v1h-1zM476 397h1v1h-1zM476 398h1v1h-1zM475 397h1v1h-1zM478 398h1v1h-1zM481 394h1v1h-1zM480 397h1v1h-1zM479 398h1v1h-1zM478 396h1v1h-1zM477 398h1v1h-1zM478 399h1v1h-1zM478 400h1v1h-1zM479 400h1v1h-1zM473 398h1v1h-1zM474 398h1v1h-1zM474 399h1v1h-1zM473 401h1v1h-1zM472 401h1v1h-1zM474 400h1v1h-1zM474 399h1v1h-1zM473 400h1v1h-1zM477 401h1v1h-1zM476 401h1v1h-1zM477 402h1v1h-1zM477 403h1v1h-1zM476 403h1v1h-1zM474 396h1v1h-1zM473 396h1v1h-1zM476 401h1v1h-1zM472 404h1v1h-1zM472 405h1v1h-1zM471 405h1v1h-1zM470 405h1v1h-1zM470 406h1v1h-1zM470 407h1v1h-1zM467 405h1v1h-1zM466 406h1v1h-1zM466 402h1v1h-1zM467 403h1v1h-1zM465 404h1v1h-1zM464 404h1v1h-1zM465 405h1v1h-1zM465 404h1v1h-1zM465 403h1v1h-1zM466 403h1v1h-1zM472 402h1v1h-1zM473 403h1v1h-1zM473 402h1v1h-1zM469 405h1v1h-1zM470 401h1v1h-1zM470 402h1v1h-1zM469 402h1v1h-1zM466 404h1v1h-1zM466 403h1v1h-1zM466 404h1v1h-1zM464 406h1v1h-1zM464 406h1v1h-1zM464 405h1v1h-1zM463 406h1v1h-1zM466 407h1v1h-1zM467 407h1v1h-1zM462 407h1v1h-1zM464 409h1v1h-1zM463 410h1v1h-1zM464 411h1v1h-1zM464 408h1v1h-1zM463 404h1v1h-1zM466 406h1v1h-1zM466 405h1v1h-1zM465 406h1v1h-1zM458 411h1v1h-1zM457 412h1v1h-1zM455 409h1v1h-1zM456 409h1v1h-1zM457 410h1v1h-1zM456 410h1v1h-1zM456 411h1v1h-1zM457 414h1v1h-1zM456 414h1v1h-1zM456 413h1v1h-1zM455 413h1v1h-1zM458 409h1v1h-1zM456 407h1v1h-1zM457 407h1v1h-1zM456 407h1v1h-1zM456 412h1v1h-1zM455 413h1v1h-1zM456 414h1v1h-1zM456 415h1v1h-1zM455 415h1v1h-1zM455 416h1v1h-1zM457 411h1v1h-1zM458 412h1v1h-1zM455 415h1v1h-1zM448 415h1v1h-1zM456 415h1v1h-1zM457 415h1v1h-1zM455 414h1v1h-1zM455 413h1v1h-1zM456 414h1v1h-1zM455 415h1v1h-1zM452 413h1v1h-1zM453 412h1v1h-1zM454 413h1v1h-1zM455 413h1v1h-1zM455 414h1v1h-1zM455 415h1v1h-1zM454 416h1v1h-1zM448 414h1v1h-1zM449 415h1v1h-1zM448 415h1v1h-1zM449 414h1v1h-1zM449 413h1v1h-1zM448 413h1v1h-1zM448 414h1v1h-1zM449 415h1v1h-1zM450 415h1v1h-1zM449 415h1v1h-1zM448 416h1v1h-1zM448 415h1v1h-1zM447 416h1v1h-1zM448 417h1v1h-1zM448 416h1v1h-1zM446 420h1v1h-1zM447 418h1v1h-1zM447 419h1v1h-1zM446 423h1v1h-1zM447 423h1v1h-1zM448 424h1v1h-1zM447 425h1v1h-1zM444 418h1v1h-1zM445 419h1v1h-1zM445 420h1v1h-1zM446 420h1v1h-1zM445 420h1v1h-1zM446 421h1v1h-1zM446 420h1v1h-1zM448 417h1v1h-1zM447 418h1v1h-1zM447 419h1v1h-1zM448 419h1v1h-1zM449 417h1v1h-1zM448 417h1v1h-1zM446 422h1v1h-1zM446 421h1v1h-1zM448 418h1v1h-1zM448 419h1v1h-1zM447 419h1v1h-1zM446 420h1v1h-1zM448 418h1v1h-1zM447 418h1v1h-1zM445 418h1v1h-1zM446 419h1v1h-1zM441 424h1v1h-1zM438 427h1v1h-1zM439 428h1v1h-1zM442 424h1v1h-1zM439 427h1v1h-1zM438 427h1v1h-1zM444 427h1v1h-1zM440 425h1v1h-1zM441 426h1v1h-1zM442 427h1v1h-1zM442 426h1v1h-1zM443 426h1v1h-1zM444 426h1v1h-1zM441 421h1v1h-1zM442 421h1v1h-1zM442 420h1v1h-1zM445 423h1v1h-1zM443 428h1v1h-1zM442 429h1v1h-1zM441 430h1v1h-1zM442 431h1v1h-1zM442 432h1v1h-1zM442 431h1v1h-1zM437 431h1v1h-1zM438 432h1v1h-1zM437 433h1v1h-1zM437 432h1v1h-1zM438 432h1v1h-1zM436 429h1v1h-1zM437 430h1v1h-1zM441 435h1v1h-1zM440 436h1v1h-1zM439 437h1v1h-1zM440 437h1v1h-1zM435 431h1v1h-1zM436 430h1v1h-1zM437 431h1v1h-1zM436 432h1v1h-1zM442 429h1v1h-1zM441 429h1v1h-1zM437 435h1v1h-1zM437 436h1v1h-1zM438 431h1v1h-1zM435 432h1v1h-1zM434 433h1v1h-1zM435 433h1v1h-1zM440 428h1v1h-1zM440 427h1v1h-1zM435 438h1v1h-1zM434 439h1v1h-1zM439 436h1v1h-1zM436 440h1v1h-1zM438 438h1v1h-1zM439 439h1v1h-1zM438 439h1v1h-1zM438 436h1v1h-1zM437 437h1v1h-1zM436 438h1v1h-1zM437 439h1v1h-1zM436 440h1v1h-1zM436 441h1v1h-1zM435 437h1v1h-1zM435 436h1v1h-1zM438 437h1v1h-1zM438 440h1v1h-1zM438 441h1v1h-1zM439 441h1v1h-1zM438 442h1v1h-1zM439 437h1v1h-1zM438 437h1v1h-1zM439 438h1v1h-1zM439 445h1v1h-1zM440 445h1v1h-1zM437 443h1v1h-1zM436 443h1v1h-1zM437 444h1v1h-1zM436 444h1v1h-1zM438 443h1v1h-1zM439 445h1v1h-1zM438 448h1v1h-1zM438 447h1v1h-1zM439 454h1v1h-1zM439 455h1v1h-1zM438 456h1v1h-1zM439 456h1v1h-1zM438 456h1v1h-1zM438 457h1v1h-1zM437 457h1v1h-1zM440 455h1v1h-1zM439 456h1v1h-1zM440 456h1v1h-1zM436 453h1v1h-1zM435 454h1v1h-1zM435 453h1v1h-1zM434 453h1v1h-1zM433 453h1v1h-1zM434 454h1v1h-1zM437 452h1v1h-1zM437 453h1v1h-1zM436 462h1v1h-1zM435 463h1v1h-1zM436 463h1v1h-1zM440 459h1v1h-1zM439 459h1v1h-1zM440 459h1v1h-1zM441 459h1v1h-1zM440 460h1v1h-1zM439 461h1v1h-1zM441 462h1v1h-1zM441 463h1v1h-1zM442 463h1v1h-1zM438 464h1v1h-1zM438 463h1v1h-1zM439 464h1v1h-1zM437 464h1v1h-1zM436 465h1v1h-1zM441 460h1v1h-1zM438 460h1v1h-1zM439 460h1v1h-1zM440 463h1v1h-1zM439 464h1v1h-1zM439 463h1v1h-1zM438 463h1v1h-1zM443 463h1v1h-1zM439 460h1v1h-1zM438 460h1v1h-1zM436 461h1v1h-1zM439 467h1v1h-1zM439 466h1v1h-1zM439 467h1v1h-1zM444 471h1v1h-1zM441 466h1v1h-1zM440 472h1v1h-1zM439 468h1v1h-1zM440 469h1v1h-1zM439 470h1v1h-1zM438 471h1v1h-1zM438 472h1v1h-1zM440 465h1v1h-1zM439 465h1v1h-1zM439 466h1v1h-1zM438 466h1v1h-1zM439 466h1v1h-1zM439 467h1v1h-1zM442 472h1v1h-1zM442 471h1v1h-1zM442 472h1v1h-1zM441 473h1v1h-1zM441 471h1v1h-1zM440 472h1v1h-1zM443 465h1v1h-1zM444 470h1v1h-1zM449 476h1v1h-1zM448 476h1v1h-1zM448 476h1v1h-1zM448 475h1v1h-1zM448 476h1v1h-1zM447 472h1v1h-1zM447 471h1v1h-1zM448 472h1v1h-1zM448 471h1v1h-1zM447 471h1v1h-1zM446 471h1v1h-1zM446 474h1v1h-1zM444 475h1v1h-1zM447 475h1v1h-1zM447 476h1v1h-1zM448 477h1v1h-1zM447 478h1v1h-1zM446 479h1v1h-1zM444 477h1v1h-1zM445 479h1v1h-1zM444 480h1v1h-1zM443 474h1v1h-1zM446 471h1v1h-1zM445 471h1v1h-1zM446 472h1v1h-1zM445 473h1v1h-1zM447 474h1v1h-1zM448 475h1v1h-1zM447 475h1v1h-1zM442 480h1v1h-1zM441 481h1v1h-1zM447 481h1v1h-1zM448 481h1v1h-1zM448 482h1v1h-1zM450 483h1v1h-1zM449 483h1v1h-1zM449 482h1v1h-1zM450 483h1v1h-1zM449 484h1v1h-1zM448 485h1v1h-1zM450 485h1v1h-1zM450 479h1v1h-1zM450 480h1v1h-1zM449 480h1v1h-1zM452 485h1v1h-1zM450 486h1v1h-1zM453 486h1v1h-1zM453 485h1v1h-1zM452 485h1v1h-1zM453 485h1v1h-1zM453 484h1v1h-1zM454 484h1v1h-1zM455 490h1v1h-1zM457 496h1v1h-1zM455 493h1v1h-1zM456 493h1v1h-1zM456 492h1v1h-1zM456 493h1v1h-1zM456 495h1v1h-1zM455 495h1v1h-1zM456 496h1v1h-1zM455 496h1v1h-1zM459 501h1v1h-1zM460 501h1v1h-1zM459 501h1v1h-1zM460 502h1v1h-1zM455 498h1v1h-1zM460 505h1v1h-1zM459 504h1v1h-1zM458 505h1v1h-1zM457 506h1v1h-1zM457 507h1v1h-1zM461 510h1v1h-1zM459 507h1v1h-1zM459 506h1v1h-1zM458 509h1v1h-1zM465 518h1v1h-1zM465 519h1v1h-1zM464 519h1v1h-1zM464 520h1v1h-1zM465 520h1v1h-1zM466 521h1v1h-1zM464 519h1v1h-1zM463 515h1v1h-1zM461 519h1v1h-1zM462 520h1v1h-1zM461 521h1v1h-1zM460 521h1v1h-1zM459 522h1v1h-1zM458 522h1v1h-1zM442 536h1v1h-1zM441 537h1v1h-1zM442 533h1v1h-1zM441 534h1v1h-1zM440 535h1v1h-1zM440 532h1v1h-1zM437 532h1v1h-1zM436 533h1v1h-1zM432 535h1v1h-1zM435 532h1v1h-1zM435 531h1v1h-1zM436 531h1v1h-1zM437 532h1v1h-1zM438 533h1v1h-1zM439 534h1v1h-1zM438 530h1v1h-1zM439 531h1v1h-1zM439 530h1v1h-1zM438 530h1v1h-1zM437 531h1v1h-1zM438 531h1v1h-1zM439 532h1v1h-1zM434 528h1v1h-1zM433 529h1v1h-1zM431 526h1v1h-1zM432 527h1v1h-1zM433 528h1v1h-1zM433 527h1v1h-1zM434 528h1v1h-1zM433 527h1v1h-1zM431 523h1v1h-1zM432 523h1v1h-1zM430 523h1v1h-1zM430 522h1v1h-1zM429 515h1v1h-1zM428 515h1v1h-1zM428 517h1v1h-1zM427 518h1v1h-1zM427 519h1v1h-1zM427 518h1v1h-1zM427 517h1v1h-1zM428 517h1v1h-1zM428 516h1v1h-1zM427 517h1v1h-1zM430 521h1v1h-1zM429 518h1v1h-1zM428 518h1v1h-1zM425 513h1v1h-1zM425 514h1v1h-1zM424 514h1v1h-1zM423 514h1v1h-1zM423 515h1v1h-1zM423 516h1v1h-1zM424 517h1v1h-1zM423 517h1v1h-1zM422 510h1v1h-1zM423 513h1v1h-1zM422 513h1v1h-1zM419 508h1v1h-1zM420 508h1v1h-1zM421 509h1v1h-1zM422 509h1v1h-1zM422 510h1v1h-1zM423 508h1v1h-1zM423 508h1v1h-1zM424 508h1v1h-1zM423 505h1v1h-1zM424 505h1v1h-1zM422 503h1v1h-1zM423 509h1v1h-1zM423 510h1v1h-1zM423 504h1v1h-1zM421 499h1v1h-1zM423 499h1v1h-1zM423 498h1v1h-1zM422 498h1v1h-1zM422 499h1v1h-1zM422 498h1v1h-1zM421 499h1v1h-1zM421 500h1v1h-1zM420 500h1v1h-1zM416 496h1v1h-1zM416 497h1v1h-1zM417 497h1v1h-1zM416 497h1v1h-1zM415 498h1v1h-1zM414 497h1v1h-1zM414 498h1v1h-1zM413 499h1v1h-1zM413 498h1v1h-1zM416 499h1v1h-1zM415 498h1v1h-1zM418 500h1v1h-1zM418 501h1v1h-1zM417 499h1v1h-1zM418 499h1v1h-1zM419 490h1v1h-1zM419 491h1v1h-1zM420 496h1v1h-1zM420 497h1v1h-1zM419 492h1v1h-1zM417 491h1v1h-1zM417 492h1v1h-1zM417 496h1v1h-1zM418 496h1v1h-1zM417 497h1v1h-1zM420 490h1v1h-1zM421 490h1v1h-1zM421 489h1v1h-1zM420 488h1v1h-1zM419 487h1v1h-1zM420 487h1v1h-1zM421 487h1v1h-1zM417 487h1v1h-1zM417 478h1v1h-1zM418 479h1v1h-1zM417 480h1v1h-1zM418 481h1v1h-1zM418 482h1v1h-1zM417 482h1v1h-1zM420 479h1v1h-1zM419 479h1v1h-1zM418 480h1v1h-1zM420 477h1v1h-1zM414 473h1v1h-1zM413 474h1v1h-1zM414 475h1v1h-1zM413 476h1v1h-1zM412 476h1v1h-1zM409 467h1v1h-1zM410 468h1v1h-1zM411 468h1v1h-1zM412 469h1v1h-1zM413 470h1v1h-1zM413 469h1v1h-1zM413 469h1v1h-1zM410 472h1v1h-1zM410 471h1v1h-1zM409 470h1v1h-1zM404 465h1v1h-1zM405 466h1v1h-1zM405 467h1v1h-1zM405 468h1v1h-1zM406 468h1v1h-1zM407 468h1v1h-1zM403 466h1v1h-1zM405 461h1v1h-1zM402 462h1v1h-1zM402 461h1v1h-1zM402 462h1v1h-1zM402 463h1v1h-1zM403 461h1v1h-1zM404 461h1v1h-1zM403 463h1v1h-1zM400 461h1v1h-1zM400 462h1v1h-1zM400 461h1v1h-1zM397 457h1v1h-1zM398 458h1v1h-1zM398 459h1v1h-1zM399 459h1v1h-1zM396 458h1v1h-1zM401 457h1v1h-1zM401 456h1v1h-1zM400 456h1v1h-1zM401 456h1v1h-1zM401 455h1v1h-1zM400 456h1v1h-1zM394 455h1v1h-1zM394 454h1v1h-1zM394 455h1v1h-1zM395 456h1v1h-1zM394 457h1v1h-1zM394 455h1v1h-1zM387 453h1v1h-1zM385 456h1v1h-1zM386 457h1v1h-1zM386 456h1v1h-1zM384 458h1v1h-1zM385 459h1v1h-1zM384 458h1v1h-1zM385 459h1v1h-1zM384 459h1v1h-1zM384 460h1v1h-1zM385 460h1v1h-1zM384 461h1v1h-1zM382 456h1v1h-1zM380 457h1v1h-1zM380 459h1v1h-1zM380 458h1v1h-1zM379 458h1v1h-1zM377 461h1v1h-1zM376 462h1v1h-1zM375 461h1v1h-1zM376 461h1v1h-1zM376 463h1v1h-1zM370 461h1v1h-1zM371 462h1v1h-1zM370 463h1v1h-1zM371 463h1v1h-1zM372 464h1v1h-1zM367 462h1v1h-1zM366 463h1v1h-1zM366 462h1v1h-1zM367 461h1v1h-1zM366 461h1v1h-1zM366 460h1v1h-1zM366 461h1v1h-1zM363 456h1v1h-1zM362 457h1v1h-1zM361 457h1v1h-1zM364 454h1v1h-1zM363 455h1v1h-1zM363 454h1v1h-1zM363 455h1v1h-1zM361 455h1v1h-1zM361 456h1v1h-1zM361 457h1v1h-1zM360 453h1v1h-1zM361 453h1v1h-1zM357 453h1v1h-1zM358 453h1v1h-1zM359 453h1v1h-1zM358 453h1v1h-1zM359 454h1v1h-1zM358 454h1v1h-1zM357 452h1v1h-1zM356 453h1v1h-1zM357 453h1v1h-1zM356 454h1v1h-1zM357 454h1v1h-1zM357 455h1v1h-1zM358 453h1v1h-1zM357 453h1v1h-1zM348 450h1v1h-1zM351 449h1v1h-1zM352 451h1v1h-1zM342 450h1v1h-1zM345 450h1v1h-1zM344 450h1v1h-1zM345 450h1v1h-1zM343 449h1v1h-1zM336 448h1v1h-1zM340 449h1v1h-1zM337 448h1v1h-1zM338 449h1v1h-1zM337 449h1v1h-1zM334 449h1v1h-1zM334 448h1v1h-1zM333 449h1v1h-1zM336 450h1v1h-1zM335 451h1v1h-1zM328 449h1v1h-1zM328 448h1v1h-1zM328 447h1v1h-1zM328 446h1v1h-1zM331 451h1v1h-1zM326 449h1v1h-1zM327 450h1v1h-1zM323 452h1v1h-1zM322 453h1v1h-1zM322 454h1v1h-1zM322 453h1v1h-1zM316 451h1v1h-1zM319 448h1v1h-1zM319 449h1v1h-1zM320 449h1v1h-1zM319 450h1v1h-1zM320 451h1v1h-1zM320 450h1v1h-1zM321 446h1v1h-1zM315 447h1v1h-1zM314 448h1v1h-1zM313 449h1v1h-1zM315 446h1v1h-1zM314 446h1v1h-1zM312 450h1v1h-1zM303 447h1v1h-1zM301 451h1v1h-1zM302 452h1v1h-1zM302 451h1v1h-1zM303 451h1v1h-1zM303 450h1v1h-1zM303 449h1v1h-1zM300 447h1v1h-1zM300 446h1v1h-1zM299 446h1v1h-1zM300 446h1v1h-1zM299 446h1v1h-1zM300 447h1v1h-1zM289 451h1v1h-1zM289 452h1v1h-1zM288 452h1v1h-1zM287 452h1v1h-1zM286 453h1v1h-1zM285 453h1v1h-1zM282 454h1v1h-1zM286 453h1v1h-1zM286 457h1v1h-1zM290 455h1v1h-1zM290 454h1v1h-1zM291 455h1v1h-1zM298 455h1v1h-1zM299 461h1v1h-1zM300 461h1v1h-1zM300 462h1v1h-1zM301 462h1v1h-1zM301 461h1v1h-1zM302 466h1v1h-1zM296 469h1v1h-1zM295 473h1v1h-1zM293 475h1v1h-1zM290 474h1v1h-1zM290 471h1v1h-1zM288 467h1v1h-1zM282 470h1v1h-1zM282 469h1v1h-1zM268 473h1v1h-1zM269 472h1v1h-1zM269 473h1v1h-1zM260 470h1v1h-1zM259 471h1v1h-1zM259 472h1v1h-1zM260 472h1v1h-1zM259 472h1v1h-1zM260 472h1v1h-1zM259 472h1v1h-1zM260 473h1v1h-1zM255 467h1v1h-1zM256 469h1v1h-1zM250 468h1v1h-1zM249 468h1v1h-1zM248 468h1v1h-1zM249 468h1v1h-1zM248 468h1v1h-1zM248 469h1v1h-1zM253 465h1v1h-1zM239 465h1v1h-1zM238 466h1v1h-1zM239 466h1v1h-1zM238 467h1v1h-1zM238 466h1v1h-1zM239 467h1v1h-1zM238 465h1v1h-1zM236 465h1v1h-1zM236 464h1v1h-1zM235 465h1v1h-1zM234 466h1v1h-1zM235 462h1v1h-1zM236 463h1v1h-1zM237 464h1v1h-1zM237 465h1v1h-1zM238 466h1v1h-1zM237 467h1v1h-1zM233 461h1v1h-1zM232 465h1v1h-1zM234 461h1v1h-1zM228 461h1v1h-1zM229 461h1v1h-1zM228 461h1v1h-1zM223 462h1v1h-1zM226 462h1v1h-1zM225 462h1v1h-1zM225 459h1v1h-1zM225 460h1v1h-1zM225 459h1v1h-1zM228 464h1v1h-1zM228 463h1v1h-1zM224 459h1v1h-1zM223 460h1v1h-1zM222 461h1v1h-1zM222 462h1v1h-1zM222 458h1v1h-1zM222 459h1v1h-1zM223 460h1v1h-1zM217 461h1v1h-1zM218 461h1v1h-1zM217 459h1v1h-1zM218 460h1v1h-1zM222 457h1v1h-1zM218 462h1v1h-1zM217 462h1v1h-1zM216 462h1v1h-1zM217 463h1v1h-1zM220 457h1v1h-1zM219 458h1v1h-1zM219 457h1v1h-1zM220 458h1v1h-1zM220 459h1v1h-1zM220 458h1v1h-1zM214 460h1v1h-1zM215 460h1v1h-1zM215 462h1v1h-1zM214 463h1v1h-1zM212 461h1v1h-1zM211 461h1v1h-1zM209 461h1v1h-1zM213 462h1v1h-1zM212 462h1v1h-1zM212 463h1v1h-1zM212 464h1v1h-1zM213 464h1v1h-1zM213 465h1v1h-1zM212 458h1v1h-1zM213 459h1v1h-1zM208 462h1v1h-1zM205 464h1v1h-1zM204 465h1v1h-1zM207 457h1v1h-1zM208 457h1v1h-1zM209 458h1v1h-1zM208 459h1v1h-1zM209 459h1v1h-1zM209 458h1v1h-1zM203 463h1v1h-1zM202 464h1v1h-1zM203 464h1v1h-1zM202 465h1v1h-1zM203 461h1v1h-1zM204 461h1v1h-1zM205 460h1v1h-1zM205 459h1v1h-1zM204 459h1v1h-1zM203 460h1v1h-1zM207 456h1v1h-1zM207 457h1v1h-1zM198 464h1v1h-1zM197 465h1v1h-1zM196 465h1v1h-1zM195 465h1v1h-1zM196 459h1v1h-1zM196 460h1v1h-1zM202 463h1v1h-1zM198 462h1v1h-1zM198 463h1v1h-1zM198 464h1v1h-1zM198 463h1v1h-1zM199 463h1v1h-1zM198 463h1v1h-1zM200 461h1v1h-1zM199 462h1v1h-1zM199 461h1v1h-1zM194 467h1v1h-1zM193 467h1v1h-1zM191 465h1v1h-1zM196 465h1v1h-1zM195 465h1v1h-1zM196 465h1v1h-1zM194 464h1v1h-1zM193 465h1v1h-1zM192 466h1v1h-1zM194 462h1v1h-1zM193 463h1v1h-1zM194 463h1v1h-1zM194 462h1v1h-1zM195 463h1v1h-1zM194 463h1v1h-1zM183 466h1v1h-1zM182 466h1v1h-1zM183 467h1v1h-1zM184 468h1v1h-1zM183 469h1v1h-1zM182 470h1v1h-1zM189 469h1v1h-1zM190 469h1v1h-1zM189 469h1v1h-1zM191 469h1v1h-1zM189 471h1v1h-1zM186 472h1v1h-1zM187 472h1v1h-1zM187 471h1v1h-1zM183 472h1v1h-1zM183 473h1v1h-1zM184 474h1v1h-1zM185 474h1v1h-1zM181 470h1v1h-1zM182 470h1v1h-1zM182 471h1v1h-1zM183 472h1v1h-1zM184 472h1v1h-1zM185 472h1v1h-1zM187 471h1v1h-1zM180 470h1v1h-1zM180 467h1v1h-1zM180 466h1v1h-1zM179 477h1v1h-1zM181 475h1v1h-1zM181 472h1v1h-1zM182 472h1v1h-1zM183 473h1v1h-1zM184 474h1v1h-1zM176 473h1v1h-1zM176 474h1v1h-1zM177 474h1v1h-1zM178 477h1v1h-1zM177 471h1v1h-1zM173 478h1v1h-1zM173 476h1v1h-1zM174 476h1v1h-1zM175 476h1v1h-1zM175 475h1v1h-1zM177 477h1v1h-1zM173 480h1v1h-1zM173 479h1v1h-1zM172 480h1v1h-1zM171 481h1v1h-1zM176 474h1v1h-1zM176 473h1v1h-1zM177 474h1v1h-1zM170 476h1v1h-1zM171 477h1v1h-1zM171 476h1v1h-1zM171 475h1v1h-1zM172 480h1v1h-1zM168 480h1v1h-1zM167 480h1v1h-1zM167 479h1v1h-1zM166 479h1v1h-1zM166 480h1v1h-1zM166 481h1v1h-1zM169 479h1v1h-1zM169 478h1v1h-1zM168 478h1v1h-1zM169 479h1v1h-1zM170 479h1v1h-1zM170 480h1v1h-1zM169 477h1v1h-1zM170 478h1v1h-1zM169 479h1v1h-1zM168 479h1v1h-1zM171 481h1v1h-1zM172 482h1v1h-1zM172 483h1v1h-1zM167 480h1v1h-1zM165 476h1v1h-1zM165 480h1v1h-1zM164 481h1v1h-1zM169 479h1v1h-1zM170 480h1v1h-1zM171 481h1v1h-1zM170 482h1v1h-1zM161 481h1v1h-1zM160 481h1v1h-1zM161 482h1v1h-1zM160 483h1v1h-1zM159 483h1v1h-1zM159 482h1v1h-1zM160 484h1v1h-1zM160 483h1v1h-1zM160 482h1v1h-1zM161 482h1v1h-1zM160 483h1v1h-1zM159 484h1v1h-1zM163 481h1v1h-1zM162 481h1v1h-1zM163 482h1v1h-1zM160 479h1v1h-1zM161 477h1v1h-1zM160 477h1v1h-1zM160 478h1v1h-1zM154 486h1v1h-1zM153 487h1v1h-1zM154 488h1v1h-1zM155 489h1v1h-1zM156 486h1v1h-1zM152 487h1v1h-1zM152 488h1v1h-1zM155 484h1v1h-1zM154 484h1v1h-1zM155 485h1v1h-1zM156 485h1v1h-1zM156 486h1v1h-1zM155 487h1v1h-1zM155 483h1v1h-1zM154 484h1v1h-1zM155 484h1v1h-1zM155 485h1v1h-1zM155 484h1v1h-1zM155 483h1v1h-1zM156 486h1v1h-1zM155 486h1v1h-1zM154 486h1v1h-1zM158 487h1v1h-1zM158 486h1v1h-1zM158 487h1v1h-1zM158 488h1v1h-1zM149 489h1v1h-1zM149 489h1v1h-1zM148 490h1v1h-1zM148 491h1v1h-1zM149 491h1v1h-1zM148 492h1v1h-1zM146 490h1v1h-1zM150 491h1v1h-1zM149 492h1v1h-1zM149 493h1v1h-1zM148 494h1v1h-1zM146 495h1v1h-1zM145 495h1v1h-1zM144 494h1v1h-1zM145 495h1v1h-1zM145 496h1v1h-1zM145 495h1v1h-1zM145 494h1v1h-1zM145 495h1v1h-1zM144 498h1v1h-1zM143 499h1v1h-1zM143 496h1v1h-1zM144 497h1v1h-1zM143 497h1v1h-1zM144 497h1v1h-1zM143 498h1v1h-1zM142 498h1v1h-1zM147 496h1v1h-1zM145 492h1v1h-1zM144 492h1v1h-1zM145 493h1v1h-1zM145 492h1v1h-1zM137 503h1v1h-1zM143 503h1v1h-1zM144 504h1v1h-1zM145 505h1v1h-1zM144 505h1v1h-1zM143 504h1v1h-1zM137 503h1v1h-1zM138 503h1v1h-1zM139 504h1v1h-1zM138 504h1v1h-1zM139 503h1v1h-1zM140 504h1v1h-1zM141 504h1v1h-1zM141 505h1v1h-1zM142 505h1v1h-1zM142 506h1v1h-1zM140 499h1v1h-1zM139 500h1v1h-1zM139 501h1v1h-1zM139 509h1v1h-1zM140 509h1v1h-1zM140 508h1v1h-1zM139 509h1v1h-1zM139 509h1v1h-1zM139 510h1v1h-1zM140 511h1v1h-1zM140 510h1v1h-1zM134 510h1v1h-1zM137 508h1v1h-1zM139 518h1v1h-1zM139 516h1v1h-1zM139 517h1v1h-1zM139 516h1v1h-1zM140 517h1v1h-1zM141 517h1v1h-1zM141 516h1v1h-1zM133 513h1v1h-1zM137 517h1v1h-1zM137 518h1v1h-1zM137 518h1v1h-1zM136 519h1v1h-1zM134 514h1v1h-1zM139 514h1v1h-1zM138 525h1v1h-1zM136 521h1v1h-1zM135 521h1v1h-1zM136 522h1v1h-1zM135 522h1v1h-1zM134 524h1v1h-1zM135 525h1v1h-1zM136 525h1v1h-1zM136 522h1v1h-1zM135 522h1v1h-1zM136 522h1v1h-1zM137 522h1v1h-1zM138 523h1v1h-1zM138 522h1v1h-1zM138 519h1v1h-1zM137 519h1v1h-1zM138 520h1v1h-1zM142 530h1v1h-1zM139 529h1v1h-1zM139 528h1v1h-1zM138 528h1v1h-1zM141 527h1v1h-1zM140 527h1v1h-1zM141 527h1v1h-1zM143 528h1v1h-1zM144 529h1v1h-1zM145 529h1v1h-1zM142 531h1v1h-1zM141 532h1v1h-1zM138 531h1v1h-1zM139 532h1v1h-1zM138 532h1v1h-1zM138 533h1v1h-1zM137 534h1v1h-1zM136 534h1v1h-1zM139 532h1v1h-1zM139 533h1v1h-1zM139 534h1v1h-1zM142 536h1v1h-1zM142 537h1v1h-1zM142 538h1v1h-1zM141 539h1v1h-1zM142 534h1v1h-1zM141 534h1v1h-1zM142 534h1v1h-1zM142 535h1v1h-1zM140 533h1v1h-1zM140 532h1v1h-1zM141 532h1v1h-1zM141 538h1v1h-1zM138 532h1v1h-1zM138 539h1v1h-1zM138 545h1v1h-1zM141 540h1v1h-1zM140 540h1v1h-1zM139 540h1v1h-1zM139 539h1v1h-1zM140 539h1v1h-1zM140 540h1v1h-1zM138 543h1v1h-1zM137 543h1v1h-1zM138 544h1v1h-1zM137 545h1v1h-1zM139 542h1v1h-1zM139 543h1v1h-1zM137 538h1v1h-1zM135 540h1v1h-1zM135 539h1v1h-1zM134 539h1v1h-1zM139 541h1v1h-1zM136 547h1v1h-1zM136 548h1v1h-1zM135 549h1v1h-1zM136 548h1v1h-1zM140 547h1v1h-1zM139 547h1v1h-1zM139 546h1v1h-1zM133 548h1v1h-1zM132 549h1v1h-1zM136 551h1v1h-1zM135 551h1v1h-1zM136 551h1v1h-1zM137 553h1v1h-1zM133 546h1v1h-1zM132 547h1v1h-1zM133 547h1v1h-1zM134 547h1v1h-1zM136 557h1v1h-1zM136 557h1v1h-1zM137 557h1v1h-1zM137 558h1v1h-1zM136 558h1v1h-1zM132 558h1v1h-1zM131 554h1v1h-1zM131 553h1v1h-1zM132 558h1v1h-1zM131 559h1v1h-1zM132 560h1v1h-1zM133 560h1v1h-1zM132 561h1v1h-1zM132 560h1v1h-1zM137 552h1v1h-1zM137 553h1v1h-1zM136 555h1v1h-1zM135 552h1v1h-1zM256 448h1v1h-1zM255 448h1v1h-1zM256 448h1v1h-1zM252 461h1v1h-1zM251 461h1v1h-1zM252 454h1v1h-1zM248 453h1v1h-1zM244 450h1v1h-1zM257 447h1v1h-1zM256 447h1v1h-1zM243 445h1v1h-1zM242 445h1v1h-1zM242 444h1v1h-1zM242 445h1v1h-1zM243 445h1v1h-1zM243 446h1v1h-1zM246 452h1v1h-1zM250 457h1v1h-1zM246 453h1v1h-1zM246 454h1v1h-1zM246 455h1v1h-1zM247 456h1v1h-1zM247 457h1v1h-1zM246 458h1v1h-1zM247 449h1v1h-1zM248 449h1v1h-1zM245 454h1v1h-1zM252 447h1v1h-1zM253 448h1v1h-1zM252 449h1v1h-1zM252 458h1v1h-1zM254 450h1v1h-1zM252 443h1v1h-1zM257 451h1v1h-1zM257 450h1v1h-1zM245 450h1v1h-1zM247 447h1v1h-1zM246 448h1v1h-1zM244 452h1v1h-1zM243 453h1v1h-1zM244 453h1v1h-1zM245 453h1v1h-1zM246 453h1v1h-1zM247 454h1v1h-1zM247 455h1v1h-1zM252 450h1v1h-1zM252 451h1v1h-1zM253 452h1v1h-1zM253 453h1v1h-1zM242 448h1v1h-1zM251 445h1v1h-1zM250 446h1v1h-1zM251 447h1v1h-1zM251 448h1v1h-1zM251 449h1v1h-1zM251 448h1v1h-1zM252 447h1v1h-1zM251 447h1v1h-1zM251 448h1v1h-1zM252 449h1v1h-1zM251 450h1v1h-1zM252 451h1v1h-1zM250 447h1v1h-1zM250 448h1v1h-1zM251 449h1v1h-1zM242 450h1v1h-1zM242 451h1v1h-1zM246 453h1v1h-1zM247 454h1v1h-1zM252 448h1v1h-1zM251 445h1v1h-1zM252 445h1v1h-1zM253 454h1v1h-1zM253 453h1v1h-1zM254 453h1v1h-1zM245 457h1v1h-1zM242 455h1v1h-1zM245 450h1v1h-1zM245 451h1v1h-1zM244 452h1v1h-1zM244 453h1v1h-1zM245 454h1v1h-1zM245 455h1v1h-1zM246 446h1v1h-1zM241 450h1v1h-1zM240 450h1v1h-1zM240 449h1v1h-1zM241 449h1v1h-1zM240 450h1v1h-1zM241 451h1v1h-1zM246 448h1v1h-1zM246 449h1v1h-1zM254 453h1v1h-1zM242 459h1v1h-1zM242 460h1v1h-1zM241 461h1v1h-1zM249 448h1v1h-1zM249 447h1v1h-1zM251 455h1v1h-1zM251 456h1v1h-1zM250 457h1v1h-1zM251 457h1v1h-1zM251 456h1v1h-1zM251 457h1v1h-1zM243 459h1v1h-1zM242 450h1v1h-1zM243 451h1v1h-1zM244 451h1v1h-1zM255 453h1v1h-1zM247 446h1v1h-1zM244 453h1v1h-1zM245 453h1v1h-1zM245 452h1v1h-1zM245 453h1v1h-1zM246 454h1v1h-1zM245 454h1v1h-1zM250 443h1v1h-1zM251 443h1v1h-1zM250 443h1v1h-1zM250 442h1v1h-1zM245 456h1v1h-1zM244 457h1v1h-1zM245 457h1v1h-1zM244 457h1v1h-1zM244 456h1v1h-1zM243 457h1v1h-1zM253 455h1v1h-1zM254 456h1v1h-1zM251 451h1v1h-1zM250 451h1v1h-1zM242 466h1v1h-1zM242 465h1v1h-1zM250 452h1v1h-1zM251 452h1v1h-1zM250 453h1v1h-1zM251 453h1v1h-1zM249 448h1v1h-1zM250 448h1v1h-1zM250 449h1v1h-1zM249 448h1v1h-1zM248 445h1v1h-1zM249 446h1v1h-1zM249 445h1v1h-1zM248 445h1v1h-1zM247 446h1v1h-1zM247 447h1v1h-1zM244 454h1v1h-1zM241 441h1v1h-1zM241 440h1v1h-1zM253 443h1v1h-1zM250 449h1v1h-1zM251 449h1v1h-1zM252 450h1v1h-1zM250 449h1v1h-1zM246 447h1v1h-1zM245 447h1v1h-1zM250 453h1v1h-1zM249 453h1v1h-1zM253 443h1v1h-1zM247 450h1v1h-1zM245 447h1v1h-1zM246 448h1v1h-1zM247 448h1v1h-1zM246 449h1v1h-1zM250 446h1v1h-1zM250 445h1v1h-1zM242 445h1v1h-1zM242 444h1v1h-1zM243 444h1v1h-1zM244 444h1v1h-1zM249 452h1v1h-1zM256 434h1v1h-1zM252 456h1v1h-1zM246 456h1v1h-1zM247 457h1v1h-1zM246 458h1v1h-1zM246 459h1v1h-1zM252 449h1v1h-1zM254 454h1v1h-1zM253 455h1v1h-1zM254 456h1v1h-1zM253 456h1v1h-1zM253 450h1v1h-1zM254 451h1v1h-1zM254 452h1v1h-1zM254 451h1v1h-1zM253 451h1v1h-1zM254 452h1v1h-1zM252 450h1v1h-1zM251 451h1v1h-1zM242 451h1v1h-1zM242 450h1v1h-1zM242 451h1v1h-1zM242 450h1v1h-1zM242 451h1v1h-1zM242 450h1v1h-1zM254 447h1v1h-1zM254 448h1v1h-1zM255 449h1v1h-1zM256 450h1v1h-1zM243 452h1v1h-1zM243 453h1v1h-1zM252 450h1v1h-1zM256 463h1v1h-1zM257 463h1v1h-1zM247 444h1v1h-1zM246 445h1v1h-1zM245 445h1v1h-1zM245 444h1v1h-1zM243 441h1v1h-1zM244 441h1v1h-1zM245 441h1v1h-1zM246 442h1v1h-1zM246 443h1v1h-1zM245 444h1v1h-1zM242 455h1v1h-1zM246 445h1v1h-1zM247 446h1v1h-1zM246 446h1v1h-1zM245 447h1v1h-1zM257 444h1v1h-1zM244 449h1v1h-1zM244 446h1v1h-1zM252 449h1v1h-1zM252 450h1v1h-1zM242 449h1v1h-1zM242 450h1v1h-1zM245 451h1v1h-1zM246 447h1v1h-1zM247 448h1v1h-1zM248 449h1v1h-1zM247 450h1v1h-1zM245 452h1v1h-1zM244 453h1v1h-1zM250 457h1v1h-1zM253 453h1v1h-1zM253 452h1v1h-1zM252 453h1v1h-1zM252 452h1v1h-1zM253 453h1v1h-1zM253 452h1v1h-1zM243 460h1v1h-1zM254 439h1v1h-1zM253 439h1v1h-1zM253 438h1v1h-1zM252 438h1v1h-1zM257 453h1v1h-1zM256 453h1v1h-1zM255 453h1v1h-1zM256 450h1v1h-1zM254 451h1v1h-1zM253 452h1v1h-1zM254 452h1v1h-1zM245 447h1v1h-1zM254 455h1v1h-1zM254 459h1v1h-1zM254 458h1v1h-1zM255 458h1v1h-1zM247 451h1v1h-1zM248 441h1v1h-1zM249 442h1v1h-1zM252 451h1v1h-1zM252 450h1v1h-1zM241 457h1v1h-1zM240 458h1v1h-1zM241 459h1v1h-1zM241 460h1v1h-1zM240 460h1v1h-1zM241 461h1v1h-1zM251 443h1v1h-1zM252 447h1v1h-1zM251 447h1v1h-1zM252 448h1v1h-1zM243 451h1v1h-1zM441 455h1v1h-1zM441 454h1v1h-1zM432 453h1v1h-1zM431 453h1v1h-1zM432 453h1v1h-1zM443 453h1v1h-1zM433 462h1v1h-1zM433 463h1v1h-1zM432 464h1v1h-1zM431 465h1v1h-1zM432 468h1v1h-1zM433 468h1v1h-1zM433 468h1v1h-1zM432 468h1v1h-1zM432 468h1v1h-1zM432 470h1v1h-1zM438 456h1v1h-1zM439 470h1v1h-1zM439 469h1v1h-1zM438 469h1v1h-1zM443 457h1v1h-1zM442 458h1v1h-1zM442 457h1v1h-1zM441 457h1v1h-1zM442 458h1v1h-1zM443 458h1v1h-1zM439 455h1v1h-1zM438 455h1v1h-1zM435 462h1v1h-1zM435 463h1v1h-1zM436 463h1v1h-1zM444 464h1v1h-1zM445 464h1v1h-1zM432 477h1v1h-1zM436 479h1v1h-1zM442 456h1v1h-1zM441 454h1v1h-1zM441 475h1v1h-1zM442 476h1v1h-1zM435 452h1v1h-1zM435 453h1v1h-1zM433 452h1v1h-1zM434 452h1v1h-1zM433 454h1v1h-1zM433 463h1v1h-1zM433 459h1v1h-1zM432 460h1v1h-1zM431 460h1v1h-1zM442 479h1v1h-1zM442 478h1v1h-1zM443 478h1v1h-1zM444 479h1v1h-1zM434 479h1v1h-1zM433 479h1v1h-1zM440 472h1v1h-1zM440 473h1v1h-1zM439 473h1v1h-1zM439 464h1v1h-1zM438 464h1v1h-1zM438 465h1v1h-1zM434 455h1v1h-1zM434 456h1v1h-1zM442 457h1v1h-1zM434 472h1v1h-1zM435 465h1v1h-1zM435 466h1v1h-1zM435 462h1v1h-1zM433 480h1v1h-1zM434 480h1v1h-1zM434 479h1v1h-1zM438 474h1v1h-1zM443 462h1v1h-1zM443 462h1v1h-1zM444 475h1v1h-1zM437 456h1v1h-1zM436 456h1v1h-1zM433 453h1v1h-1zM434 472h1v1h-1zM433 473h1v1h-1zM432 474h1v1h-1zM438 473h1v1h-1zM442 453h1v1h-1zM441 453h1v1h-1zM440 453h1v1h-1zM440 452h1v1h-1zM440 462h1v1h-1zM440 461h1v1h-1zM439 462h1v1h-1zM437 468h1v1h-1zM436 469h1v1h-1zM437 470h1v1h-1zM434 470h1v1h-1zM434 471h1v1h-1zM439 460h1v1h-1z"/>
<path fill="#FF4600" d="M573 265h1v1h-1zM574 265h1v1h-1zM573 265h1v1h-1zM573 264h1v1h-1zM573 265h1v1h-1zM572 265h1v1h-1zM572 264h1v1h-1zM571 265h1v1h-1zM562 283h1v1h-1zM562 284h1v1h-1zM563 284h1v1h-1zM549 279h1v1h-1zM550 279h1v1h-1zM549 280h1v1h-1zM547 306h1v1h-1zM548 306h1v1h-1zM539 289h1v1h-1zM540 289h1v1h-1zM541 290h1v1h-1zM541 289h1v1h-1zM542 289h1v1h-1zM541 289h1v1h-1zM547 282h1v1h-1zM540 331h1v1h-1zM541 332h1v1h-1zM542 333h1v1h-1zM531 340h1v1h-1zM531 341h1v1h-1zM531 342h1v1h-1zM530 342h1v1h-1zM529 343h1v1h-1zM530 343h1v1h-1zM538 341h1v1h-1zM532 361h1v1h-1zM532 360h1v1h-1zM523 362h1v1h-1zM506 381h1v1h-1zM506 380h1v1h-1zM506 381h1v1h-1zM498 384h1v1h-1zM500 383h1v1h-1zM501 383h1v1h-1zM477 399h1v1h-1zM469 403h1v1h-1zM472 404h1v1h-1zM462 408h1v1h-1zM461 409h1v1h-1zM462 409h1v1h-1zM461 410h1v1h-1zM459 413h1v1h-1zM444 424h1v1h-1zM443 424h1v1h-1zM438 470h1v1h-1zM439 470h1v1h-1zM452 494h1v1h-1zM436 530h1v1h-1zM436 529h1v1h-1zM436 530h1v1h-1zM436 531h1v1h-1zM431 536h1v1h-1zM431 537h1v1h-1zM413 473h1v1h-1zM402 462h1v1h-1zM403 462h1v1h-1zM293 456h1v1h-1zM292 457h1v1h-1zM293 458h1v1h-1zM294 459h1v1h-1zM190 466h1v1h-1zM188 471h1v1h-1zM189 471h1v1h-1zM188 472h1v1h-1zM131 554h1v1h-1zM245 454h1v1h-1zM244 454h1v1h-1zM244 455h1v1h-1zM243 455h1v1h-1zM242 448h1v1h-1zM242 449h1v1h-1zM242 448h1v1h-1zM243 448h1v1h-1zM243 449h1v1h-1zM243 448h1v1h-1zM245 447h1v1h-1zM244 447h1v1h-1zM253 449h1v1h-1zM252 449h1v1h-1zM250 445h1v1h-1zM247 450h1v1h-1zM246 451h1v1h-1z"/>
<path fill="#FFFA00" d="M575 260h1v1h-1zM574 261h1v1h-1zM573 261h1v1h-1zM573 260h1v1h-1zM567 279h1v1h-1zM539 340h1v1h-1zM545 349h1v1h-1zM544 349h1v1h-1zM529 366h1v1h-1zM529 365h1v1h-1zM530 365h1v1h-1zM530 364h1v1h-1zM524 364h1v1h-1zM523 364h1v1h-1zM522 364h1v1h-1zM521 364h1v1h-1zM522 364h1v1h-1zM521 365h1v1h-1zM520 356h1v1h-1zM520 357h1v1h-1zM519 358h1v1h-1zM521 366h1v1h-1zM522 366h1v1h-1zM522 367h1v1h-1zM522 368h1v1h-1zM521 369h1v1h-1zM521 370h1v1h-1zM512 359h1v1h-1zM513 359h1v1h-1zM512 359h1v1h-1zM511 360h1v1h-1zM515 375h1v1h-1zM506 376h1v1h-1zM473 402h1v1h-1zM474 402h1v1h-1zM474 403h1v1h-1zM474 404h1v1h-1zM458 405h1v1h-1zM458 406h1v1h-1zM463 409h1v1h-1zM449 419h1v1h-1zM449 418h1v1h-1zM449 419h1v1h-1zM448 420h1v1h-1zM447 420h1v1h-1zM447 421h1v1h-1zM444 425h1v1h-1zM443 425h1v1h-1zM436 445h1v1h-1zM435 446h1v1h-1zM434 446h1v1h-1zM435 447h1v1h-1zM439 450h1v1h-1zM461 514h1v1h-1zM436 532h1v1h-1zM431 525h1v1h-1zM406 465h1v1h-1zM405 466h1v1h-1zM404 466h1v1h-1zM405 467h1v1h-1zM406 468h1v1h-1zM405 468h1v1h-1zM164 482h1v1h-1zM165 483h1v1h-1zM166 484h1v1h-1zM136 522h1v1h-1zM139 531h1v1h-1zM138 532h1v1h-1zM141 537h1v1h-1zM254 455h1v1h-1zM255 456h1v1h-1zM251 457h1v1h-1zM250 458h1v1h-1zM250 459h1v1h-1zM251 459h1v1h-1zM251 458h1v1h-1zM251 459h1v1h-1zM286 474h2v1h-2zM257 456h1v1h-1zM285 471h2v1h-2zM279 459h2v1h-2zM267 474h2v1h-2zM274 464h1v1h-1zM293 464h1v1h-1zM299 459h1v1h-1zM292 457h1v1h-1zM275 465h1v1h-1zM276 457h1v1h-1zM296 459h1v1h-1zM269 463h1v1h-1zM273 472h1v1h-1zM268 465h1v1h-1zM263 465h2v1h-2zM282 472h1v1h-1zM258 469h2v1h-2zM293 461h2v1h-2zM242 460h2v1h-2zM233 463h1v1h-1zM238 459h1v1h-1zM200 461h1v1h-1zM217 460h1v1h-1zM208 465h1v1h-1zM226 461h1v1h-1zM248 466h2v1h-2zM202 463h2v1h-2zM221 463h1v1h-1zM243 460h1v1h-1zM248 465h1v1h-1zM204 462h1v1h-1zM245 465h1v1h-1zM443 459h1v1h-1zM443 458h1v1h-1zM443 457h1v1h-1zM442 457h1v1h-1zM443 457h1v1h-1zM442 457h1v1h-1zM438 452h1v1h-1zM438 453h1v1h-1z"/>
<path fill="#FFA000" d="M571 271h1v1h-1zM571 272h1v1h-1zM553 282h1v1h-1zM543 288h1v1h-1zM544 288h1v1h-1zM545 288h1v1h-1zM544 288h1v1h-1zM544 287h1v1h-1zM544 286h1v1h-1zM554 298h1v1h-1zM554 299h1v1h-1zM554 298h1v1h-1zM554 297h1v1h-1zM546 288h1v1h-1zM545 288h1v1h-1zM545 287h1v1h-1zM545 286h1v1h-1zM544 286h1v1h-1zM543 287h1v1h-1zM530 366h1v1h-1zM531 366h1v1h-1zM513 368h1v1h-1zM512 368h1v1h-1zM512 369h1v1h-1zM478 395h1v1h-1zM469 403h1v1h-1zM458 410h1v1h-1zM459 411h1v1h-1zM444 533h1v1h-1zM445 533h1v1h-1zM434 532h1v1h-1zM433 533h1v1h-1zM432 533h1v1h-1zM433 534h1v1h-1zM419 489h1v1h-1zM416 475h1v1h-1zM415 476h1v1h-1zM415 477h1v1h-1zM415 476h1v1h-1zM416 477h1v1h-1zM417 478h1v1h-1zM338 449h1v1h-1zM339 450h1v1h-1zM273 472h1v1h-1zM188 463h1v1h-1zM149 492h1v1h-1zM143 494h1v1h-1zM139 503h1v1h-1zM138 504h1v1h-1zM136 506h1v1h-1zM135 507h1v1h-1zM254 449h1v1h-1zM245 452h1v1h-1zM286 472h2v1h-2zM276 454h1v1h-1zM276 460h2v1h-2zM296 453h2v1h-2zM282 456h2v1h-2zM267 473h1v1h-1zM260 471h1v1h-1zM262 463h2v1h-2zM277 457h2v1h-2zM299 466h2v1h-2zM295 467h2v1h-2zM226 461h2v1h-2zM243 464h1v1h-1zM239 466h1v1h-1zM238 463h2v1h-2zM247 461h1v1h-1zM239 464h1v1h-1zM228 461h2v1h-2zM213 464h1v1h-1zM218 464h2v1h-2zM205 457h1v1h-1zM226 466h1v1h-1zM247 466h1v1h-1zM223 464h1v1h-1zM246 462h2v1h-2zM217 464h2v1h-2zM439 468h1v1h-1zM440 468h1v1h-1zM439 469h1v1h-1zM439 468h1v1h-1zM438 468h1v1h-1zM437 469h1v1h-1z"/>
<path fill="#FFCD00" d="M281 464h1v1h-1zM294 468h1v1h-1zM263 452h1v1h-1zM293 459h1v1h-1zM287 461h1v1h-1zM288 457h1v1h-1zM298 462h1v1h-1zM297 473h1v1h-1zM292 457h2v1h-2zM294 454h1v1h-1zM293 470h2v1h-2zM288 471h1v1h-1zM246 461h2v1h-2zM246 465h2v1h-2zM216 465h2v1h-2zM230 463h1v1h-1zM235 462h1v1h-1zM217 463h1v1h-1zM199 464h2v1h-2zM222 464h1v1h-1zM226 462h1v1h-1zM241 457h1v1h-1z"/>
<path fill="#FFFFFF" d="M286 471h1v1h-1zM257 457h2v1h-2zM279 463h1v1h-1zM298 459h1v1h-1zM277 462h2v1h-2zM288 473h1v1h-1zM291 458h2v1h-2zM297 466h2v1h-2zM292 469h2v1h-2zM275 462h1v1h-1zM280 464h1v1h-1zM261 457h1v1h-1zM295 470h1v1h-1zM287 462h1v1h-1zM292 458h2v1h-2zM282 455h1v1h-1zM267 452h1v1h-1zM283 452h2v1h-2zM270 462h1v1h-1zM292 452h1v1h-1zM198 460h1v1h-1zM226 466h1v1h-1zM213 466h1v1h-1zM241 463h1v1h-1zM223 466h2v1h-2zM246 459h1v1h-1zM218 466h1v1h-1zM251 463h1v1h-1zM223 459h1v1h-1zM198 459h1v1h-1zM245 462h1v1h-1z"/>
<path fill="#DCFF23" d="M290 458h2v1h-2zM272 460h1v1h-1zM293 454h1v1h-1zM275 463h1v1h-1zM271 465h2v1h-2zM263 464h1v1h-1zM285 467h2v1h-2zM277 469h2v1h-2z"/>
</g>
<rect x="129.5" y="162.5" width="711" height="698" fill="none" stroke="#222" stroke-width="1"/>
<g stroke="#000" stroke-width="1" fill="none">
<line x1="112.3" y1="833.5" x2="129.5" y2="833.5"/><line x1="112.3" y1="739.5" x2="129.5" y2="739.5"/><line x1="112.3" y1="645.5" x2="129.5" y2="645.5"/><line x1="112.3" y1="552.5" x2="129.5" y2="552.5"/><line x1="112.3" y1="458.5" x2="129.5" y2="458.5"/><line x1="112.3" y1="365.5" x2="129.5" y2="365.5"/><line x1="112.3" y1="271.5" x2="129.5" y2="271.5"/><line x1="112.3" y1="177.5" x2="129.5" y2="177.5"/><line x1="185.5" y1="860.5" x2="185.5" y2="877"/><line x1="278.5" y1="860.5" x2="278.5" y2="877"/><line x1="372.5" y1="860.5" x2="372.5" y2="877"/><line x1="466.5" y1="860.5" x2="466.5" y2="877"/><line x1="559.5" y1="860.5" x2="559.5" y2="877"/><line x1="653.5" y1="860.5" x2="653.5" y2="877"/><line x1="747.5" y1="860.5" x2="747.5" y2="877"/></g>
<text class="t22" x="98.2" y="841.5" text-anchor="end">10°N</text>
<text class="t22" x="98.2" y="747.8" text-anchor="end">15°N</text>
<text class="t22" x="98.2" y="654.2" text-anchor="end">20°N</text>
<text class="t22" x="98.2" y="560.5" text-anchor="end">25°N</text>
<text class="t22" x="98.2" y="466.9" text-anchor="end">30°N</text>
<text class="t22" x="98.2" y="373.2" text-anchor="end">35°N</text>
<text class="t22" x="98.2" y="279.6" text-anchor="end">40°N</text>
<text class="t22" x="98.2" y="185.9" text-anchor="end">45°N</text>
<text class="t22" x="185.2" y="910.8" text-anchor="middle">95°W</text>
<text class="t22" x="278.9" y="910.8" text-anchor="middle">90°W</text>
<text class="t22" x="372.5" y="910.8" text-anchor="middle">85°W</text>
<text class="t22" x="466.2" y="910.8" text-anchor="middle">80°W</text>
<text class="t22" x="559.8" y="910.8" text-anchor="middle">75°W</text>
<text class="t22" x="653.5" y="910.8" text-anchor="middle">70°W</text>
<text class="t22" x="747.1" y="910.8" text-anchor="middle">65°W</text>
<text class="t22" x="484" y="945" text-anchor="middle">Longitude</text>
<text class="t22" transform="translate(42,511) rotate(-90)" text-anchor="middle">Latitude</text>
<text x="163.5" y="133.8" style="font-size:25.6px">2021021919</text>
<text x="806" y="128.6" text-anchor="end" style="font-size:25.6px">Elevation (m)</text>
<g shape-rendering="crispEdges">
<rect x="878.5" y="169.00" width="42.5" height="31.40" fill="#8B0000"/><rect x="878.5" y="200.10" width="42.5" height="31.40" fill="#B50000"/><rect x="878.5" y="231.20" width="42.5" height="31.40" fill="#E60000"/><rect x="878.5" y="262.30" width="42.5" height="31.40" fill="#FF1400"/><rect x="878.5" y="293.40" width="42.5" height="31.40" fill="#FF4600"/><rect x="878.5" y="324.50" width="42.5" height="31.40" fill="#FF7800"/><rect x="878.5" y="355.60" width="42.5" height="31.40" fill="#FFA000"/><rect x="878.5" y="386.70" width="42.5" height="31.40" fill="#FFCD00"/><rect x="878.5" y="417.80" width="42.5" height="31.40" fill="#FFFA00"/><rect x="878.5" y="448.90" width="42.5" height="31.40" fill="#DCFF23"/><rect x="878.5" y="480.00" width="42.5" height="31.40" fill="#AAFF55"/><rect x="878.5" y="511.10" width="42.5" height="31.40" fill="#7DFF82"/><rect x="878.5" y="542.20" width="42.5" height="31.40" fill="#50FFAF"/><rect x="878.5" y="573.30" width="42.5" height="31.40" fill="#23FFDC"/><rect x="878.5" y="604.40" width="42.5" height="31.40" fill="#00FAFF"/><rect x="878.5" y="635.50" width="42.5" height="31.40" fill="#00C8FF"/><rect x="878.5" y="666.60" width="42.5" height="31.40" fill="#0099FF"/><rect x="878.5" y="697.70" width="42.5" height="31.40" fill="#0066FF"/><rect x="878.5" y="728.80" width="42.5" height="31.40" fill="#0034FF"/><rect x="878.5" y="759.90" width="42.5" height="31.40" fill="#0002FF"/><rect x="878.5" y="791.00" width="42.5" height="31.40" fill="#0000D2"/><rect x="878.5" y="822.10" width="42.5" height="31.40" fill="#0000AA"/>
</g>
<g stroke="#000" stroke-width="0.8" opacity="0.75">
<line x1="878.5" y1="200.10" x2="921" y2="200.10"/><line x1="878.5" y1="231.20" x2="921" y2="231.20"/><line x1="878.5" y1="262.30" x2="921" y2="262.30"/><line x1="878.5" y1="293.40" x2="921" y2="293.40"/><line x1="878.5" y1="324.50" x2="921" y2="324.50"/><line x1="878.5" y1="355.60" x2="921" y2="355.60"/><line x1="878.5" y1="386.70" x2="921" y2="386.70"/><line x1="878.5" y1="417.80" x2="921" y2="417.80"/><line x1="878.5" y1="448.90" x2="921" y2="448.90"/><line x1="878.5" y1="480.00" x2="921" y2="480.00"/><line x1="878.5" y1="511.10" x2="921" y2="511.10"/><line x1="878.5" y1="542.20" x2="921" y2="542.20"/><line x1="878.5" y1="573.30" x2="921" y2="573.30"/><line x1="878.5" y1="604.40" x2="921" y2="604.40"/><line x1="878.5" y1="635.50" x2="921" y2="635.50"/><line x1="878.5" y1="666.60" x2="921" y2="666.60"/><line x1="878.5" y1="697.70" x2="921" y2="697.70"/><line x1="878.5" y1="728.80" x2="921" y2="728.80"/><line x1="878.5" y1="759.90" x2="921" y2="759.90"/><line x1="878.5" y1="791.00" x2="921" y2="791.00"/><line x1="878.5" y1="822.10" x2="921" y2="822.10"/>
</g>
<rect x="878.5" y="169" width="42.5" height="684.20" fill="none" stroke="#555" stroke-width="0.6"/>
<text class="t30" x="960" y="211.7" text-anchor="middle">2</text>
<text class="t30" x="960" y="273.9" text-anchor="middle">1.6</text>
<text class="t30" x="960" y="336.1" text-anchor="middle">1.2</text>
<text class="t30" x="960" y="398.3" text-anchor="middle">0.8</text>
<text class="t30" x="960" y="460.5" text-anchor="middle">0.4</text>
<text class="t30" x="960" y="522.7" text-anchor="middle">0</text>
<text class="t30" x="960" y="584.9" text-anchor="middle">-0.4</text>
<text class="t30" x="960" y="647.1" text-anchor="middle">-0.8</text>
<text class="t30" x="960" y="709.3" text-anchor="middle">-1.2</text>
<text class="t30" x="960" y="771.5" text-anchor="middle">-1.6</text>
<text class="t30" x="960" y="833.7" text-anchor="middle">-2</text>
</svg>
</body></html>
